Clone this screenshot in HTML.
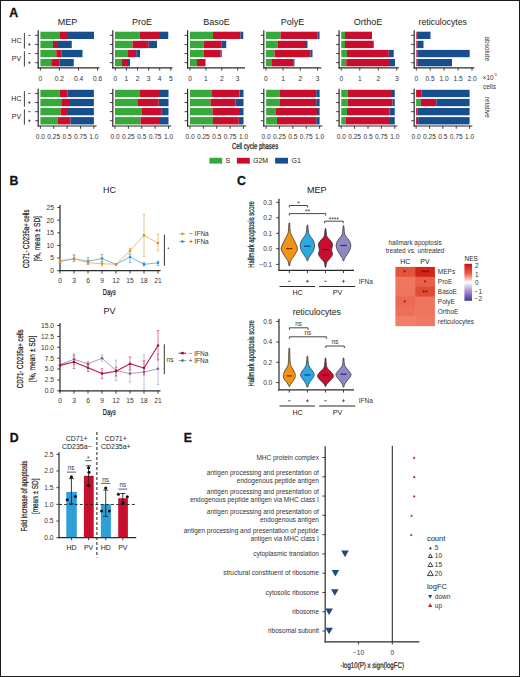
<!DOCTYPE html>
<html><head><meta charset="utf-8"><title>Figure</title>
<style>
html,body{margin:0;padding:0;background:#fff;}
svg{display:block;}
text{font-family:"Liberation Sans", sans-serif;}
</style></head>
<body>
<svg width="520" height="677" viewBox="0 0 520 677">
<rect x="0" y="0" width="520" height="677" fill="#fff"/>
<text x="9.20" y="17.00" font-size="12.3" text-anchor="start" fill="#111" font-weight="bold" stroke="#111" stroke-width="0.3">A</text>
<text x="67.50" y="24.60" font-size="9" text-anchor="middle" fill="#1a1a1a">MEP</text>
<rect x="40.40" y="31.70" width="19.60" height="7.30" fill="#36A93A"/>
<rect x="60.00" y="31.70" width="8.00" height="7.30" fill="#CB0D2D"/>
<rect x="68.00" y="31.70" width="26.00" height="7.30" fill="#174F8D"/>
<rect x="40.40" y="40.80" width="12.60" height="7.30" fill="#36A93A"/>
<rect x="53.00" y="40.80" width="5.00" height="7.30" fill="#CB0D2D"/>
<rect x="58.00" y="40.80" width="13.75" height="7.30" fill="#174F8D"/>
<rect x="40.40" y="49.90" width="15.85" height="7.30" fill="#36A93A"/>
<rect x="56.25" y="49.90" width="5.50" height="7.30" fill="#CB0D2D"/>
<rect x="61.75" y="49.90" width="20.75" height="7.30" fill="#174F8D"/>
<rect x="40.40" y="59.00" width="10.85" height="7.30" fill="#36A93A"/>
<rect x="51.25" y="59.00" width="8.00" height="7.30" fill="#CB0D2D"/>
<rect x="59.25" y="59.00" width="14.50" height="7.30" fill="#174F8D"/>
<rect x="40.40" y="89.80" width="19.10" height="7.30" fill="#36A93A"/>
<rect x="59.50" y="89.80" width="8.00" height="7.30" fill="#CB0D2D"/>
<rect x="67.50" y="89.80" width="26.40" height="7.30" fill="#174F8D"/>
<rect x="40.40" y="98.90" width="20.85" height="7.30" fill="#36A93A"/>
<rect x="61.25" y="98.90" width="8.75" height="7.30" fill="#CB0D2D"/>
<rect x="70.00" y="98.90" width="23.90" height="7.30" fill="#174F8D"/>
<rect x="40.40" y="108.00" width="20.10" height="7.30" fill="#36A93A"/>
<rect x="60.50" y="108.00" width="7.50" height="7.30" fill="#CB0D2D"/>
<rect x="68.00" y="108.00" width="25.90" height="7.30" fill="#174F8D"/>
<rect x="40.40" y="117.10" width="17.10" height="7.30" fill="#36A93A"/>
<rect x="57.50" y="117.10" width="13.00" height="7.30" fill="#CB0D2D"/>
<rect x="70.50" y="117.10" width="23.40" height="7.30" fill="#174F8D"/>
<line x1="38.20" y1="30.20" x2="38.20" y2="68.40" stroke="#2b2b2b" stroke-width="1.2"/>
<line x1="37.60" y1="67.80" x2="99.50" y2="67.80" stroke="#2b2b2b" stroke-width="1.2"/>
<line x1="35.20" y1="35.35" x2="38.20" y2="35.35" stroke="#2b2b2b" stroke-width="0.9"/>
<line x1="35.20" y1="44.45" x2="38.20" y2="44.45" stroke="#2b2b2b" stroke-width="0.9"/>
<line x1="35.20" y1="53.55" x2="38.20" y2="53.55" stroke="#2b2b2b" stroke-width="0.9"/>
<line x1="35.20" y1="62.65" x2="38.20" y2="62.65" stroke="#2b2b2b" stroke-width="0.9"/>
<line x1="40.40" y1="67.80" x2="40.40" y2="70.60" stroke="#2b2b2b" stroke-width="0.9"/>
<text x="40.40" y="80.60" font-size="6.6" text-anchor="middle" fill="#333">0</text>
<line x1="59.40" y1="67.80" x2="59.40" y2="70.60" stroke="#2b2b2b" stroke-width="0.9"/>
<text x="59.40" y="80.60" font-size="6.6" text-anchor="middle" fill="#333">0.2</text>
<line x1="78.50" y1="67.80" x2="78.50" y2="70.60" stroke="#2b2b2b" stroke-width="0.9"/>
<text x="78.50" y="80.60" font-size="6.6" text-anchor="middle" fill="#333">0.4</text>
<line x1="97.50" y1="67.80" x2="97.50" y2="70.60" stroke="#2b2b2b" stroke-width="0.9"/>
<text x="97.50" y="80.60" font-size="6.6" text-anchor="middle" fill="#333">0.6</text>
<line x1="38.20" y1="88.80" x2="38.20" y2="126.60" stroke="#2b2b2b" stroke-width="1.2"/>
<line x1="37.60" y1="126.00" x2="96.60" y2="126.00" stroke="#2b2b2b" stroke-width="1.2"/>
<line x1="35.20" y1="93.45" x2="38.20" y2="93.45" stroke="#2b2b2b" stroke-width="0.9"/>
<line x1="35.20" y1="102.55" x2="38.20" y2="102.55" stroke="#2b2b2b" stroke-width="0.9"/>
<line x1="35.20" y1="111.65" x2="38.20" y2="111.65" stroke="#2b2b2b" stroke-width="0.9"/>
<line x1="35.20" y1="120.75" x2="38.20" y2="120.75" stroke="#2b2b2b" stroke-width="0.9"/>
<line x1="40.40" y1="126.00" x2="40.40" y2="128.80" stroke="#2b2b2b" stroke-width="0.9"/>
<text x="40.40" y="138.80" font-size="6.6" text-anchor="middle" fill="#333">0.0</text>
<line x1="53.77" y1="126.00" x2="53.77" y2="128.80" stroke="#2b2b2b" stroke-width="0.9"/>
<text x="53.77" y="138.80" font-size="6.6" text-anchor="middle" fill="#333">0.25</text>
<line x1="67.15" y1="126.00" x2="67.15" y2="128.80" stroke="#2b2b2b" stroke-width="0.9"/>
<text x="67.15" y="138.80" font-size="6.6" text-anchor="middle" fill="#333">0.5</text>
<line x1="80.53" y1="126.00" x2="80.53" y2="128.80" stroke="#2b2b2b" stroke-width="0.9"/>
<text x="80.53" y="138.80" font-size="6.6" text-anchor="middle" fill="#333">0.75</text>
<line x1="93.90" y1="126.00" x2="93.90" y2="128.80" stroke="#2b2b2b" stroke-width="0.9"/>
<text x="93.90" y="138.80" font-size="6.6" text-anchor="middle" fill="#333">1.0</text>
<text x="142.00" y="24.60" font-size="9" text-anchor="middle" fill="#1a1a1a">ProE</text>
<rect x="115.00" y="31.70" width="24.50" height="7.30" fill="#36A93A"/>
<rect x="139.50" y="31.70" width="20.50" height="7.30" fill="#CB0D2D"/>
<rect x="160.00" y="31.70" width="8.25" height="7.30" fill="#174F8D"/>
<rect x="115.00" y="40.80" width="17.50" height="7.30" fill="#36A93A"/>
<rect x="132.50" y="40.80" width="16.25" height="7.30" fill="#CB0D2D"/>
<rect x="148.75" y="40.80" width="8.25" height="7.30" fill="#174F8D"/>
<rect x="115.00" y="49.90" width="13.00" height="7.30" fill="#36A93A"/>
<rect x="128.00" y="49.90" width="8.25" height="7.30" fill="#CB0D2D"/>
<rect x="136.25" y="49.90" width="3.75" height="7.30" fill="#174F8D"/>
<rect x="115.00" y="59.00" width="7.00" height="7.30" fill="#36A93A"/>
<rect x="122.00" y="59.00" width="5.00" height="7.30" fill="#CB0D2D"/>
<rect x="127.00" y="59.00" width="3.00" height="7.30" fill="#174F8D"/>
<rect x="115.00" y="89.80" width="25.00" height="7.30" fill="#36A93A"/>
<rect x="140.00" y="89.80" width="20.00" height="7.30" fill="#CB0D2D"/>
<rect x="160.00" y="89.80" width="8.50" height="7.30" fill="#174F8D"/>
<rect x="115.00" y="98.90" width="23.00" height="7.30" fill="#36A93A"/>
<rect x="138.00" y="98.90" width="20.75" height="7.30" fill="#CB0D2D"/>
<rect x="158.75" y="98.90" width="9.75" height="7.30" fill="#174F8D"/>
<rect x="115.00" y="108.00" width="27.00" height="7.30" fill="#36A93A"/>
<rect x="142.00" y="108.00" width="19.25" height="7.30" fill="#CB0D2D"/>
<rect x="161.25" y="108.00" width="7.25" height="7.30" fill="#174F8D"/>
<rect x="115.00" y="117.10" width="25.50" height="7.30" fill="#36A93A"/>
<rect x="140.50" y="117.10" width="19.50" height="7.30" fill="#CB0D2D"/>
<rect x="160.00" y="117.10" width="8.50" height="7.30" fill="#174F8D"/>
<line x1="112.80" y1="30.20" x2="112.80" y2="68.40" stroke="#2b2b2b" stroke-width="1.2"/>
<line x1="112.20" y1="67.80" x2="172.50" y2="67.80" stroke="#2b2b2b" stroke-width="1.2"/>
<line x1="109.80" y1="35.35" x2="112.80" y2="35.35" stroke="#2b2b2b" stroke-width="0.9"/>
<line x1="109.80" y1="44.45" x2="112.80" y2="44.45" stroke="#2b2b2b" stroke-width="0.9"/>
<line x1="109.80" y1="53.55" x2="112.80" y2="53.55" stroke="#2b2b2b" stroke-width="0.9"/>
<line x1="109.80" y1="62.65" x2="112.80" y2="62.65" stroke="#2b2b2b" stroke-width="0.9"/>
<line x1="115.30" y1="67.80" x2="115.30" y2="70.60" stroke="#2b2b2b" stroke-width="0.9"/>
<text x="115.30" y="80.60" font-size="6.6" text-anchor="middle" fill="#333">0</text>
<line x1="126.40" y1="67.80" x2="126.40" y2="70.60" stroke="#2b2b2b" stroke-width="0.9"/>
<text x="126.40" y="80.60" font-size="6.6" text-anchor="middle" fill="#333">1</text>
<line x1="137.50" y1="67.80" x2="137.50" y2="70.60" stroke="#2b2b2b" stroke-width="0.9"/>
<text x="137.50" y="80.60" font-size="6.6" text-anchor="middle" fill="#333">2</text>
<line x1="148.60" y1="67.80" x2="148.60" y2="70.60" stroke="#2b2b2b" stroke-width="0.9"/>
<text x="148.60" y="80.60" font-size="6.6" text-anchor="middle" fill="#333">3</text>
<line x1="159.70" y1="67.80" x2="159.70" y2="70.60" stroke="#2b2b2b" stroke-width="0.9"/>
<text x="159.70" y="80.60" font-size="6.6" text-anchor="middle" fill="#333">4</text>
<line x1="170.80" y1="67.80" x2="170.80" y2="70.60" stroke="#2b2b2b" stroke-width="0.9"/>
<text x="170.80" y="80.60" font-size="6.6" text-anchor="middle" fill="#333">5</text>
<line x1="112.80" y1="88.80" x2="112.80" y2="126.60" stroke="#2b2b2b" stroke-width="1.2"/>
<line x1="112.20" y1="126.00" x2="171.20" y2="126.00" stroke="#2b2b2b" stroke-width="1.2"/>
<line x1="109.80" y1="93.45" x2="112.80" y2="93.45" stroke="#2b2b2b" stroke-width="0.9"/>
<line x1="109.80" y1="102.55" x2="112.80" y2="102.55" stroke="#2b2b2b" stroke-width="0.9"/>
<line x1="109.80" y1="111.65" x2="112.80" y2="111.65" stroke="#2b2b2b" stroke-width="0.9"/>
<line x1="109.80" y1="120.75" x2="112.80" y2="120.75" stroke="#2b2b2b" stroke-width="0.9"/>
<line x1="115.00" y1="126.00" x2="115.00" y2="128.80" stroke="#2b2b2b" stroke-width="0.9"/>
<text x="115.00" y="138.80" font-size="6.6" text-anchor="middle" fill="#333">0.0</text>
<line x1="128.38" y1="126.00" x2="128.38" y2="128.80" stroke="#2b2b2b" stroke-width="0.9"/>
<text x="128.38" y="138.80" font-size="6.6" text-anchor="middle" fill="#333">0.25</text>
<line x1="141.75" y1="126.00" x2="141.75" y2="128.80" stroke="#2b2b2b" stroke-width="0.9"/>
<text x="141.75" y="138.80" font-size="6.6" text-anchor="middle" fill="#333">0.5</text>
<line x1="155.12" y1="126.00" x2="155.12" y2="128.80" stroke="#2b2b2b" stroke-width="0.9"/>
<text x="155.12" y="138.80" font-size="6.6" text-anchor="middle" fill="#333">0.75</text>
<line x1="168.50" y1="126.00" x2="168.50" y2="128.80" stroke="#2b2b2b" stroke-width="0.9"/>
<text x="168.50" y="138.80" font-size="6.6" text-anchor="middle" fill="#333">1.0</text>
<text x="216.50" y="24.60" font-size="9" text-anchor="middle" fill="#1a1a1a">BasoE</text>
<rect x="190.00" y="31.70" width="23.00" height="7.30" fill="#36A93A"/>
<rect x="213.00" y="31.70" width="27.50" height="7.30" fill="#CB0D2D"/>
<rect x="240.50" y="31.70" width="2.75" height="7.30" fill="#174F8D"/>
<rect x="190.00" y="40.80" width="13.75" height="7.30" fill="#36A93A"/>
<rect x="203.75" y="40.80" width="17.50" height="7.30" fill="#CB0D2D"/>
<rect x="221.25" y="40.80" width="5.00" height="7.30" fill="#174F8D"/>
<rect x="190.00" y="49.90" width="13.75" height="7.30" fill="#36A93A"/>
<rect x="203.75" y="49.90" width="17.00" height="7.30" fill="#CB0D2D"/>
<rect x="220.75" y="49.90" width="1.00" height="7.30" fill="#174F8D"/>
<rect x="190.00" y="59.00" width="7.00" height="7.30" fill="#36A93A"/>
<rect x="197.00" y="59.00" width="8.50" height="7.30" fill="#CB0D2D"/>
<rect x="205.50" y="59.00" width="0.00" height="7.30" fill="#174F8D"/>
<rect x="190.00" y="89.80" width="22.00" height="7.30" fill="#36A93A"/>
<rect x="212.00" y="89.80" width="27.50" height="7.30" fill="#CB0D2D"/>
<rect x="239.50" y="89.80" width="4.00" height="7.30" fill="#174F8D"/>
<rect x="190.00" y="98.90" width="20.50" height="7.30" fill="#36A93A"/>
<rect x="210.50" y="98.90" width="25.00" height="7.30" fill="#CB0D2D"/>
<rect x="235.50" y="98.90" width="8.00" height="7.30" fill="#174F8D"/>
<rect x="190.00" y="108.00" width="22.50" height="7.30" fill="#36A93A"/>
<rect x="212.50" y="108.00" width="27.50" height="7.30" fill="#CB0D2D"/>
<rect x="240.00" y="108.00" width="3.50" height="7.30" fill="#174F8D"/>
<rect x="190.00" y="117.10" width="23.00" height="7.30" fill="#36A93A"/>
<rect x="213.00" y="117.10" width="25.75" height="7.30" fill="#CB0D2D"/>
<rect x="238.75" y="117.10" width="4.75" height="7.30" fill="#174F8D"/>
<line x1="187.60" y1="30.20" x2="187.60" y2="68.40" stroke="#2b2b2b" stroke-width="1.2"/>
<line x1="187.00" y1="67.80" x2="245.00" y2="67.80" stroke="#2b2b2b" stroke-width="1.2"/>
<line x1="184.60" y1="35.35" x2="187.60" y2="35.35" stroke="#2b2b2b" stroke-width="0.9"/>
<line x1="184.60" y1="44.45" x2="187.60" y2="44.45" stroke="#2b2b2b" stroke-width="0.9"/>
<line x1="184.60" y1="53.55" x2="187.60" y2="53.55" stroke="#2b2b2b" stroke-width="0.9"/>
<line x1="184.60" y1="62.65" x2="187.60" y2="62.65" stroke="#2b2b2b" stroke-width="0.9"/>
<line x1="190.00" y1="67.80" x2="190.00" y2="70.60" stroke="#2b2b2b" stroke-width="0.9"/>
<text x="190.00" y="80.60" font-size="6.6" text-anchor="middle" fill="#333">0</text>
<line x1="205.90" y1="67.80" x2="205.90" y2="70.60" stroke="#2b2b2b" stroke-width="0.9"/>
<text x="205.90" y="80.60" font-size="6.6" text-anchor="middle" fill="#333">1</text>
<line x1="221.80" y1="67.80" x2="221.80" y2="70.60" stroke="#2b2b2b" stroke-width="0.9"/>
<text x="221.80" y="80.60" font-size="6.6" text-anchor="middle" fill="#333">2</text>
<line x1="237.70" y1="67.80" x2="237.70" y2="70.60" stroke="#2b2b2b" stroke-width="0.9"/>
<text x="237.70" y="80.60" font-size="6.6" text-anchor="middle" fill="#333">3</text>
<line x1="187.60" y1="88.80" x2="187.60" y2="126.60" stroke="#2b2b2b" stroke-width="1.2"/>
<line x1="187.00" y1="126.00" x2="246.20" y2="126.00" stroke="#2b2b2b" stroke-width="1.2"/>
<line x1="184.60" y1="93.45" x2="187.60" y2="93.45" stroke="#2b2b2b" stroke-width="0.9"/>
<line x1="184.60" y1="102.55" x2="187.60" y2="102.55" stroke="#2b2b2b" stroke-width="0.9"/>
<line x1="184.60" y1="111.65" x2="187.60" y2="111.65" stroke="#2b2b2b" stroke-width="0.9"/>
<line x1="184.60" y1="120.75" x2="187.60" y2="120.75" stroke="#2b2b2b" stroke-width="0.9"/>
<line x1="190.00" y1="126.00" x2="190.00" y2="128.80" stroke="#2b2b2b" stroke-width="0.9"/>
<text x="190.00" y="138.80" font-size="6.6" text-anchor="middle" fill="#333">0.0</text>
<line x1="203.38" y1="126.00" x2="203.38" y2="128.80" stroke="#2b2b2b" stroke-width="0.9"/>
<text x="203.38" y="138.80" font-size="6.6" text-anchor="middle" fill="#333">0.25</text>
<line x1="216.75" y1="126.00" x2="216.75" y2="128.80" stroke="#2b2b2b" stroke-width="0.9"/>
<text x="216.75" y="138.80" font-size="6.6" text-anchor="middle" fill="#333">0.5</text>
<line x1="230.12" y1="126.00" x2="230.12" y2="128.80" stroke="#2b2b2b" stroke-width="0.9"/>
<text x="230.12" y="138.80" font-size="6.6" text-anchor="middle" fill="#333">0.75</text>
<line x1="243.50" y1="126.00" x2="243.50" y2="128.80" stroke="#2b2b2b" stroke-width="0.9"/>
<text x="243.50" y="138.80" font-size="6.6" text-anchor="middle" fill="#333">1.0</text>
<text x="292.50" y="24.60" font-size="9" text-anchor="middle" fill="#1a1a1a">PolyE</text>
<rect x="265.90" y="31.70" width="14.60" height="7.30" fill="#36A93A"/>
<rect x="280.50" y="31.70" width="37.00" height="7.30" fill="#CB0D2D"/>
<rect x="317.50" y="31.70" width="2.00" height="7.30" fill="#174F8D"/>
<rect x="265.90" y="40.80" width="11.60" height="7.30" fill="#36A93A"/>
<rect x="277.50" y="40.80" width="27.50" height="7.30" fill="#CB0D2D"/>
<rect x="305.00" y="40.80" width="2.50" height="7.30" fill="#174F8D"/>
<rect x="265.90" y="49.90" width="8.60" height="7.30" fill="#36A93A"/>
<rect x="274.50" y="49.90" width="36.00" height="7.30" fill="#CB0D2D"/>
<rect x="310.50" y="49.90" width="2.00" height="7.30" fill="#174F8D"/>
<rect x="265.90" y="59.00" width="6.10" height="7.30" fill="#36A93A"/>
<rect x="272.00" y="59.00" width="21.75" height="7.30" fill="#CB0D2D"/>
<rect x="293.75" y="59.00" width="0.75" height="7.30" fill="#174F8D"/>
<rect x="266.10" y="89.80" width="13.90" height="7.30" fill="#36A93A"/>
<rect x="280.00" y="89.80" width="36.25" height="7.30" fill="#CB0D2D"/>
<rect x="316.25" y="89.80" width="3.35" height="7.30" fill="#174F8D"/>
<rect x="266.10" y="98.90" width="13.90" height="7.30" fill="#36A93A"/>
<rect x="280.00" y="98.90" width="36.25" height="7.30" fill="#CB0D2D"/>
<rect x="316.25" y="98.90" width="3.35" height="7.30" fill="#174F8D"/>
<rect x="266.10" y="108.00" width="9.40" height="7.30" fill="#36A93A"/>
<rect x="275.50" y="108.00" width="41.50" height="7.30" fill="#CB0D2D"/>
<rect x="317.00" y="108.00" width="2.60" height="7.30" fill="#174F8D"/>
<rect x="266.10" y="117.10" width="10.90" height="7.30" fill="#36A93A"/>
<rect x="277.00" y="117.10" width="39.25" height="7.30" fill="#CB0D2D"/>
<rect x="316.25" y="117.10" width="3.35" height="7.30" fill="#174F8D"/>
<line x1="263.80" y1="30.20" x2="263.80" y2="68.40" stroke="#2b2b2b" stroke-width="1.2"/>
<line x1="263.20" y1="67.80" x2="321.25" y2="67.80" stroke="#2b2b2b" stroke-width="1.2"/>
<line x1="260.80" y1="35.35" x2="263.80" y2="35.35" stroke="#2b2b2b" stroke-width="0.9"/>
<line x1="260.80" y1="44.45" x2="263.80" y2="44.45" stroke="#2b2b2b" stroke-width="0.9"/>
<line x1="260.80" y1="53.55" x2="263.80" y2="53.55" stroke="#2b2b2b" stroke-width="0.9"/>
<line x1="260.80" y1="62.65" x2="263.80" y2="62.65" stroke="#2b2b2b" stroke-width="0.9"/>
<line x1="265.90" y1="67.80" x2="265.90" y2="70.60" stroke="#2b2b2b" stroke-width="0.9"/>
<text x="265.90" y="80.60" font-size="6.6" text-anchor="middle" fill="#333">0</text>
<line x1="283.10" y1="67.80" x2="283.10" y2="70.60" stroke="#2b2b2b" stroke-width="0.9"/>
<text x="283.10" y="80.60" font-size="6.6" text-anchor="middle" fill="#333">1</text>
<line x1="300.30" y1="67.80" x2="300.30" y2="70.60" stroke="#2b2b2b" stroke-width="0.9"/>
<text x="300.30" y="80.60" font-size="6.6" text-anchor="middle" fill="#333">2</text>
<line x1="317.50" y1="67.80" x2="317.50" y2="70.60" stroke="#2b2b2b" stroke-width="0.9"/>
<text x="317.50" y="80.60" font-size="6.6" text-anchor="middle" fill="#333">3</text>
<line x1="263.80" y1="88.80" x2="263.80" y2="126.60" stroke="#2b2b2b" stroke-width="1.2"/>
<line x1="263.20" y1="126.00" x2="322.30" y2="126.00" stroke="#2b2b2b" stroke-width="1.2"/>
<line x1="260.80" y1="93.45" x2="263.80" y2="93.45" stroke="#2b2b2b" stroke-width="0.9"/>
<line x1="260.80" y1="102.55" x2="263.80" y2="102.55" stroke="#2b2b2b" stroke-width="0.9"/>
<line x1="260.80" y1="111.65" x2="263.80" y2="111.65" stroke="#2b2b2b" stroke-width="0.9"/>
<line x1="260.80" y1="120.75" x2="263.80" y2="120.75" stroke="#2b2b2b" stroke-width="0.9"/>
<line x1="266.10" y1="126.00" x2="266.10" y2="128.80" stroke="#2b2b2b" stroke-width="0.9"/>
<text x="266.10" y="138.80" font-size="6.6" text-anchor="middle" fill="#333">0.0</text>
<line x1="279.48" y1="126.00" x2="279.48" y2="128.80" stroke="#2b2b2b" stroke-width="0.9"/>
<text x="279.48" y="138.80" font-size="6.6" text-anchor="middle" fill="#333">0.25</text>
<line x1="292.85" y1="126.00" x2="292.85" y2="128.80" stroke="#2b2b2b" stroke-width="0.9"/>
<text x="292.85" y="138.80" font-size="6.6" text-anchor="middle" fill="#333">0.5</text>
<line x1="306.23" y1="126.00" x2="306.23" y2="128.80" stroke="#2b2b2b" stroke-width="0.9"/>
<text x="306.23" y="138.80" font-size="6.6" text-anchor="middle" fill="#333">0.75</text>
<line x1="319.60" y1="126.00" x2="319.60" y2="128.80" stroke="#2b2b2b" stroke-width="0.9"/>
<text x="319.60" y="138.80" font-size="6.6" text-anchor="middle" fill="#333">1.0</text>
<text x="368.00" y="24.60" font-size="9" text-anchor="middle" fill="#1a1a1a">OrthoE</text>
<rect x="341.25" y="31.70" width="3.75" height="7.30" fill="#36A93A"/>
<rect x="345.00" y="31.70" width="27.00" height="7.30" fill="#CB0D2D"/>
<rect x="372.00" y="31.70" width="0.00" height="7.30" fill="#174F8D"/>
<rect x="341.25" y="40.80" width="3.75" height="7.30" fill="#36A93A"/>
<rect x="345.00" y="40.80" width="28.75" height="7.30" fill="#CB0D2D"/>
<rect x="373.75" y="40.80" width="0.00" height="7.30" fill="#174F8D"/>
<rect x="341.25" y="49.90" width="5.75" height="7.30" fill="#36A93A"/>
<rect x="347.00" y="49.90" width="41.75" height="7.30" fill="#CB0D2D"/>
<rect x="388.75" y="49.90" width="5.00" height="7.30" fill="#174F8D"/>
<rect x="341.25" y="59.00" width="5.00" height="7.30" fill="#36A93A"/>
<rect x="346.25" y="59.00" width="43.75" height="7.30" fill="#CB0D2D"/>
<rect x="390.00" y="59.00" width="5.00" height="7.30" fill="#174F8D"/>
<rect x="341.25" y="89.80" width="6.25" height="7.30" fill="#36A93A"/>
<rect x="347.50" y="89.80" width="44.50" height="7.30" fill="#CB0D2D"/>
<rect x="392.00" y="89.80" width="2.75" height="7.30" fill="#174F8D"/>
<rect x="341.25" y="98.90" width="6.25" height="7.30" fill="#36A93A"/>
<rect x="347.50" y="98.90" width="45.00" height="7.30" fill="#CB0D2D"/>
<rect x="392.50" y="98.90" width="2.25" height="7.30" fill="#174F8D"/>
<rect x="341.25" y="108.00" width="5.75" height="7.30" fill="#36A93A"/>
<rect x="347.00" y="108.00" width="42.50" height="7.30" fill="#CB0D2D"/>
<rect x="389.50" y="108.00" width="5.25" height="7.30" fill="#174F8D"/>
<rect x="341.25" y="117.10" width="4.25" height="7.30" fill="#36A93A"/>
<rect x="345.50" y="117.10" width="44.50" height="7.30" fill="#CB0D2D"/>
<rect x="390.00" y="117.10" width="4.75" height="7.30" fill="#174F8D"/>
<line x1="339.10" y1="30.20" x2="339.10" y2="68.40" stroke="#2b2b2b" stroke-width="1.2"/>
<line x1="338.50" y1="67.80" x2="398.75" y2="67.80" stroke="#2b2b2b" stroke-width="1.2"/>
<line x1="336.10" y1="35.35" x2="339.10" y2="35.35" stroke="#2b2b2b" stroke-width="0.9"/>
<line x1="336.10" y1="44.45" x2="339.10" y2="44.45" stroke="#2b2b2b" stroke-width="0.9"/>
<line x1="336.10" y1="53.55" x2="339.10" y2="53.55" stroke="#2b2b2b" stroke-width="0.9"/>
<line x1="336.10" y1="62.65" x2="339.10" y2="62.65" stroke="#2b2b2b" stroke-width="0.9"/>
<line x1="341.25" y1="67.80" x2="341.25" y2="70.60" stroke="#2b2b2b" stroke-width="0.9"/>
<text x="341.25" y="80.60" font-size="6.6" text-anchor="middle" fill="#333">0</text>
<line x1="359.75" y1="67.80" x2="359.75" y2="70.60" stroke="#2b2b2b" stroke-width="0.9"/>
<text x="359.75" y="80.60" font-size="6.6" text-anchor="middle" fill="#333">1</text>
<line x1="378.25" y1="67.80" x2="378.25" y2="70.60" stroke="#2b2b2b" stroke-width="0.9"/>
<text x="378.25" y="80.60" font-size="6.6" text-anchor="middle" fill="#333">2</text>
<line x1="396.75" y1="67.80" x2="396.75" y2="70.60" stroke="#2b2b2b" stroke-width="0.9"/>
<text x="396.75" y="80.60" font-size="6.6" text-anchor="middle" fill="#333">3</text>
<line x1="339.10" y1="88.80" x2="339.10" y2="126.60" stroke="#2b2b2b" stroke-width="1.2"/>
<line x1="338.50" y1="126.00" x2="397.45" y2="126.00" stroke="#2b2b2b" stroke-width="1.2"/>
<line x1="336.10" y1="93.45" x2="339.10" y2="93.45" stroke="#2b2b2b" stroke-width="0.9"/>
<line x1="336.10" y1="102.55" x2="339.10" y2="102.55" stroke="#2b2b2b" stroke-width="0.9"/>
<line x1="336.10" y1="111.65" x2="339.10" y2="111.65" stroke="#2b2b2b" stroke-width="0.9"/>
<line x1="336.10" y1="120.75" x2="339.10" y2="120.75" stroke="#2b2b2b" stroke-width="0.9"/>
<line x1="341.25" y1="126.00" x2="341.25" y2="128.80" stroke="#2b2b2b" stroke-width="0.9"/>
<text x="341.25" y="138.80" font-size="6.6" text-anchor="middle" fill="#333">0.0</text>
<line x1="354.62" y1="126.00" x2="354.62" y2="128.80" stroke="#2b2b2b" stroke-width="0.9"/>
<text x="354.62" y="138.80" font-size="6.6" text-anchor="middle" fill="#333">0.25</text>
<line x1="368.00" y1="126.00" x2="368.00" y2="128.80" stroke="#2b2b2b" stroke-width="0.9"/>
<text x="368.00" y="138.80" font-size="6.6" text-anchor="middle" fill="#333">0.5</text>
<line x1="381.38" y1="126.00" x2="381.38" y2="128.80" stroke="#2b2b2b" stroke-width="0.9"/>
<text x="381.38" y="138.80" font-size="6.6" text-anchor="middle" fill="#333">0.75</text>
<line x1="394.75" y1="126.00" x2="394.75" y2="128.80" stroke="#2b2b2b" stroke-width="0.9"/>
<text x="394.75" y="138.80" font-size="6.6" text-anchor="middle" fill="#333">1.0</text>
<text x="442.70" y="24.60" font-size="8.7" text-anchor="middle" fill="#1a1a1a">reticulocytes</text>
<rect x="416.30" y="31.70" width="0.00" height="7.30" fill="#36A93A"/>
<rect x="416.30" y="31.70" width="0.80" height="7.30" fill="#CB0D2D"/>
<rect x="417.10" y="31.70" width="13.40" height="7.30" fill="#174F8D"/>
<rect x="416.30" y="40.80" width="0.00" height="7.30" fill="#36A93A"/>
<rect x="416.30" y="40.80" width="1.50" height="7.30" fill="#CB0D2D"/>
<rect x="417.80" y="40.80" width="5.70" height="7.30" fill="#174F8D"/>
<rect x="416.30" y="49.90" width="0.00" height="7.30" fill="#36A93A"/>
<rect x="416.30" y="49.90" width="1.00" height="7.30" fill="#CB0D2D"/>
<rect x="417.30" y="49.90" width="52.40" height="7.30" fill="#174F8D"/>
<rect x="416.30" y="59.00" width="0.00" height="7.30" fill="#36A93A"/>
<rect x="416.30" y="59.00" width="1.00" height="7.30" fill="#CB0D2D"/>
<rect x="417.30" y="59.00" width="34.70" height="7.30" fill="#174F8D"/>
<rect x="416.10" y="89.80" width="0.00" height="7.30" fill="#36A93A"/>
<rect x="416.10" y="89.80" width="5.50" height="7.30" fill="#CB0D2D"/>
<rect x="421.60" y="89.80" width="48.00" height="7.30" fill="#174F8D"/>
<rect x="416.10" y="98.90" width="4.70" height="7.30" fill="#36A93A"/>
<rect x="420.80" y="98.90" width="15.50" height="7.30" fill="#CB0D2D"/>
<rect x="436.30" y="98.90" width="33.30" height="7.30" fill="#174F8D"/>
<rect x="416.10" y="108.00" width="0.00" height="7.30" fill="#36A93A"/>
<rect x="416.10" y="108.00" width="1.60" height="7.30" fill="#CB0D2D"/>
<rect x="417.70" y="108.00" width="51.90" height="7.30" fill="#174F8D"/>
<rect x="416.10" y="117.10" width="0.00" height="7.30" fill="#36A93A"/>
<rect x="416.10" y="117.10" width="2.10" height="7.30" fill="#CB0D2D"/>
<rect x="418.20" y="117.10" width="51.40" height="7.30" fill="#174F8D"/>
<line x1="414.20" y1="30.20" x2="414.20" y2="68.40" stroke="#2b2b2b" stroke-width="1.2"/>
<line x1="413.60" y1="67.80" x2="474.30" y2="67.80" stroke="#2b2b2b" stroke-width="1.2"/>
<line x1="411.20" y1="35.35" x2="414.20" y2="35.35" stroke="#2b2b2b" stroke-width="0.9"/>
<line x1="411.20" y1="44.45" x2="414.20" y2="44.45" stroke="#2b2b2b" stroke-width="0.9"/>
<line x1="411.20" y1="53.55" x2="414.20" y2="53.55" stroke="#2b2b2b" stroke-width="0.9"/>
<line x1="411.20" y1="62.65" x2="414.20" y2="62.65" stroke="#2b2b2b" stroke-width="0.9"/>
<line x1="416.30" y1="67.80" x2="416.30" y2="70.60" stroke="#2b2b2b" stroke-width="0.9"/>
<text x="416.30" y="80.60" font-size="6.6" text-anchor="middle" fill="#333">0</text>
<line x1="430.20" y1="67.80" x2="430.20" y2="70.60" stroke="#2b2b2b" stroke-width="0.9"/>
<text x="430.20" y="80.60" font-size="6.6" text-anchor="middle" fill="#333">0.5</text>
<line x1="444.10" y1="67.80" x2="444.10" y2="70.60" stroke="#2b2b2b" stroke-width="0.9"/>
<text x="444.10" y="80.60" font-size="6.6" text-anchor="middle" fill="#333">1.0</text>
<line x1="458.10" y1="67.80" x2="458.10" y2="70.60" stroke="#2b2b2b" stroke-width="0.9"/>
<text x="458.10" y="80.60" font-size="6.6" text-anchor="middle" fill="#333">1.5</text>
<line x1="472.00" y1="67.80" x2="472.00" y2="70.60" stroke="#2b2b2b" stroke-width="0.9"/>
<text x="472.00" y="80.60" font-size="6.6" text-anchor="middle" fill="#333">2.0</text>
<line x1="414.20" y1="88.80" x2="414.20" y2="126.60" stroke="#2b2b2b" stroke-width="1.2"/>
<line x1="413.60" y1="126.00" x2="472.30" y2="126.00" stroke="#2b2b2b" stroke-width="1.2"/>
<line x1="411.20" y1="93.45" x2="414.20" y2="93.45" stroke="#2b2b2b" stroke-width="0.9"/>
<line x1="411.20" y1="102.55" x2="414.20" y2="102.55" stroke="#2b2b2b" stroke-width="0.9"/>
<line x1="411.20" y1="111.65" x2="414.20" y2="111.65" stroke="#2b2b2b" stroke-width="0.9"/>
<line x1="411.20" y1="120.75" x2="414.20" y2="120.75" stroke="#2b2b2b" stroke-width="0.9"/>
<line x1="416.10" y1="126.00" x2="416.10" y2="128.80" stroke="#2b2b2b" stroke-width="0.9"/>
<text x="416.10" y="138.80" font-size="6.6" text-anchor="middle" fill="#333">0.0</text>
<line x1="429.48" y1="126.00" x2="429.48" y2="128.80" stroke="#2b2b2b" stroke-width="0.9"/>
<text x="429.48" y="138.80" font-size="6.6" text-anchor="middle" fill="#333">0.25</text>
<line x1="442.85" y1="126.00" x2="442.85" y2="128.80" stroke="#2b2b2b" stroke-width="0.9"/>
<text x="442.85" y="138.80" font-size="6.6" text-anchor="middle" fill="#333">0.5</text>
<line x1="456.23" y1="126.00" x2="456.23" y2="128.80" stroke="#2b2b2b" stroke-width="0.9"/>
<text x="456.23" y="138.80" font-size="6.6" text-anchor="middle" fill="#333">0.75</text>
<line x1="469.60" y1="126.00" x2="469.60" y2="128.80" stroke="#2b2b2b" stroke-width="0.9"/>
<text x="469.60" y="138.80" font-size="6.6" text-anchor="middle" fill="#333">1.0</text>
<text x="16.40" y="42.50" font-size="7.0" text-anchor="middle" fill="#222">HC</text>
<text x="16.40" y="60.70" font-size="7.0" text-anchor="middle" fill="#222">PV</text>
<line x1="24.40" y1="33.00" x2="24.40" y2="48.60" stroke="#2b2b2b" stroke-width="0.9"/>
<line x1="24.40" y1="51.30" x2="24.40" y2="66.50" stroke="#2b2b2b" stroke-width="0.9"/>
<line x1="28.10" y1="35.35" x2="30.70" y2="35.35" stroke="#444" stroke-width="0.8"/>
<line x1="28.10" y1="44.45" x2="30.70" y2="44.45" stroke="#444" stroke-width="0.8"/>
<line x1="29.40" y1="43.15" x2="29.40" y2="45.75" stroke="#444" stroke-width="0.8"/>
<line x1="28.10" y1="53.55" x2="30.70" y2="53.55" stroke="#444" stroke-width="0.8"/>
<line x1="28.10" y1="62.65" x2="30.70" y2="62.65" stroke="#444" stroke-width="0.8"/>
<line x1="29.40" y1="61.35" x2="29.40" y2="63.95" stroke="#444" stroke-width="0.8"/>
<text x="16.40" y="100.60" font-size="7.0" text-anchor="middle" fill="#222">HC</text>
<text x="16.40" y="118.80" font-size="7.0" text-anchor="middle" fill="#222">PV</text>
<line x1="24.40" y1="91.10" x2="24.40" y2="106.70" stroke="#2b2b2b" stroke-width="0.9"/>
<line x1="24.40" y1="109.40" x2="24.40" y2="124.60" stroke="#2b2b2b" stroke-width="0.9"/>
<line x1="28.10" y1="93.45" x2="30.70" y2="93.45" stroke="#444" stroke-width="0.8"/>
<line x1="28.10" y1="102.55" x2="30.70" y2="102.55" stroke="#444" stroke-width="0.8"/>
<line x1="29.40" y1="101.25" x2="29.40" y2="103.85" stroke="#444" stroke-width="0.8"/>
<line x1="28.10" y1="111.65" x2="30.70" y2="111.65" stroke="#444" stroke-width="0.8"/>
<line x1="28.10" y1="120.75" x2="30.70" y2="120.75" stroke="#444" stroke-width="0.8"/>
<line x1="29.40" y1="119.45" x2="29.40" y2="122.05" stroke="#444" stroke-width="0.8"/>
<text x="484.60" y="48.80" font-size="6.5" text-anchor="middle" fill="#333" transform="rotate(90 484.6 48.8)" dy="0">absolute</text>
<text x="484.60" y="107.40" font-size="6.5" text-anchor="middle" fill="#333" transform="rotate(90 484.6 107.4)">relative</text>
<text x="482.60" y="80.00" font-size="6.5" text-anchor="start" fill="#333">×10</text>
<text x="494.60" y="76.20" font-size="4" text-anchor="start" fill="#333">3</text>
<text x="483.00" y="89.00" font-size="6.5" text-anchor="start" fill="#333">cells</text>
<text transform="translate(255.00,149.00) scale(0.6840,1)" x="0" y="0" font-size="8.7" text-anchor="middle" fill="#1a1a1a" stroke="#1a1a1a" stroke-width="0.263" text-rendering="geometricPrecision">Cell cycle phases</text>
<rect x="209.40" y="157.80" width="12.80" height="5.80" fill="#36A93A"/>
<text x="225.60" y="163.10" font-size="7" text-anchor="start" fill="#222">S</text>
<rect x="236.90" y="157.80" width="12.90" height="5.80" fill="#CB0D2D"/>
<text x="253.00" y="163.10" font-size="7" text-anchor="start" fill="#222">G2M</text>
<rect x="275.10" y="157.80" width="12.90" height="5.80" fill="#174F8D"/>
<text x="291.60" y="163.10" font-size="7" text-anchor="start" fill="#222">G1</text>
<text x="9.60" y="184.80" font-size="12.3" text-anchor="start" fill="#111" font-weight="bold" stroke="#111" stroke-width="0.3">B</text>
<text x="109.50" y="193.00" font-size="9" text-anchor="middle" fill="#1a1a1a">HC</text>
<line x1="60.00" y1="205.00" x2="60.00" y2="271.30" stroke="#2b2b2b" stroke-width="1.2"/>
<line x1="59.40" y1="270.70" x2="160.50" y2="270.70" stroke="#2b2b2b" stroke-width="1.2"/>
<line x1="57.20" y1="270.70" x2="60.00" y2="270.70" stroke="#2b2b2b" stroke-width="0.9"/>
<text x="54.00" y="273.10" font-size="6.7" text-anchor="end" fill="#333">0</text>
<line x1="57.20" y1="258.06" x2="60.00" y2="258.06" stroke="#2b2b2b" stroke-width="0.9"/>
<text x="54.00" y="260.46" font-size="6.7" text-anchor="end" fill="#333">5</text>
<line x1="57.20" y1="245.43" x2="60.00" y2="245.43" stroke="#2b2b2b" stroke-width="0.9"/>
<text x="54.00" y="247.83" font-size="6.7" text-anchor="end" fill="#333">10</text>
<line x1="57.20" y1="232.79" x2="60.00" y2="232.79" stroke="#2b2b2b" stroke-width="0.9"/>
<text x="54.00" y="235.19" font-size="6.7" text-anchor="end" fill="#333">15</text>
<line x1="57.20" y1="220.16" x2="60.00" y2="220.16" stroke="#2b2b2b" stroke-width="0.9"/>
<text x="54.00" y="222.56" font-size="6.7" text-anchor="end" fill="#333">20</text>
<line x1="57.20" y1="207.52" x2="60.00" y2="207.52" stroke="#2b2b2b" stroke-width="0.9"/>
<text x="54.00" y="209.92" font-size="6.7" text-anchor="end" fill="#333">25</text>
<line x1="60.00" y1="270.70" x2="60.00" y2="273.50" stroke="#2b2b2b" stroke-width="0.9"/>
<text x="60.00" y="282.90" font-size="6.7" text-anchor="middle" fill="#333">0</text>
<line x1="74.00" y1="270.70" x2="74.00" y2="273.50" stroke="#2b2b2b" stroke-width="0.9"/>
<text x="74.00" y="282.90" font-size="6.7" text-anchor="middle" fill="#333">3</text>
<line x1="88.00" y1="270.70" x2="88.00" y2="273.50" stroke="#2b2b2b" stroke-width="0.9"/>
<text x="88.00" y="282.90" font-size="6.7" text-anchor="middle" fill="#333">6</text>
<line x1="102.00" y1="270.70" x2="102.00" y2="273.50" stroke="#2b2b2b" stroke-width="0.9"/>
<text x="102.00" y="282.90" font-size="6.7" text-anchor="middle" fill="#333">9</text>
<line x1="116.00" y1="270.70" x2="116.00" y2="273.50" stroke="#2b2b2b" stroke-width="0.9"/>
<text x="116.00" y="282.90" font-size="6.7" text-anchor="middle" fill="#333">12</text>
<line x1="130.00" y1="270.70" x2="130.00" y2="273.50" stroke="#2b2b2b" stroke-width="0.9"/>
<text x="130.00" y="282.90" font-size="6.7" text-anchor="middle" fill="#333">15</text>
<line x1="144.01" y1="270.70" x2="144.01" y2="273.50" stroke="#2b2b2b" stroke-width="0.9"/>
<text x="144.01" y="282.90" font-size="6.7" text-anchor="middle" fill="#333">18</text>
<line x1="158.01" y1="270.70" x2="158.01" y2="273.50" stroke="#2b2b2b" stroke-width="0.9"/>
<text x="158.01" y="282.90" font-size="6.7" text-anchor="middle" fill="#333">21</text>
<text transform="translate(109.30,295.30) scale(0.6584,1)" x="0" y="0" font-size="8.6" text-anchor="middle" fill="#1a1a1a" stroke="#1a1a1a" stroke-width="0.228" text-rendering="geometricPrecision">Days</text>
<text transform="translate(28.80,238.80) rotate(-90) scale(0.6933,1)" x="0" y="0" font-size="8.7" text-anchor="middle" fill="#1a1a1a" stroke="#1a1a1a" stroke-width="0.216" text-rendering="geometricPrecision">CD71- CD235a+ cells</text>
<text transform="translate(40.00,238.80) rotate(-90) scale(0.7476,1)" x="0" y="0" font-size="8.7" text-anchor="middle" fill="#1a1a1a" stroke="#1a1a1a" stroke-width="0.201" text-rendering="geometricPrecision">[%, mean ± SD]</text>
<path d="M60.00,261.40 L74.00,258.90 L88.00,261.20 L102.00,258.50 L116.00,264.40 L130.00,256.90 L144.01,264.30 L158.01,262.80" fill="none" stroke="#45A8D6" stroke-width="0.8" stroke-linejoin="round"/>
<line x1="60.00" y1="259.00" x2="60.00" y2="263.50" stroke="#4A98C0" stroke-width="0.65"/>
<line x1="58.70" y1="259.00" x2="61.30" y2="259.00" stroke="#4A98C0" stroke-width="0.65"/>
<line x1="58.70" y1="263.50" x2="61.30" y2="263.50" stroke="#4A98C0" stroke-width="0.65"/>
<circle cx="60.00" cy="261.40" r="1.25" fill="#2F8DBA"/>
<line x1="74.00" y1="255.00" x2="74.00" y2="261.50" stroke="#4A98C0" stroke-width="0.65"/>
<line x1="72.70" y1="255.00" x2="75.30" y2="255.00" stroke="#4A98C0" stroke-width="0.65"/>
<line x1="72.70" y1="261.50" x2="75.30" y2="261.50" stroke="#4A98C0" stroke-width="0.65"/>
<circle cx="74.00" cy="258.90" r="1.25" fill="#2F8DBA"/>
<line x1="88.00" y1="257.70" x2="88.00" y2="264.30" stroke="#4A98C0" stroke-width="0.65"/>
<line x1="86.70" y1="257.70" x2="89.30" y2="257.70" stroke="#4A98C0" stroke-width="0.65"/>
<line x1="86.70" y1="264.30" x2="89.30" y2="264.30" stroke="#4A98C0" stroke-width="0.65"/>
<circle cx="88.00" cy="261.20" r="1.25" fill="#2F8DBA"/>
<line x1="102.00" y1="254.60" x2="102.00" y2="261.90" stroke="#4A98C0" stroke-width="0.65"/>
<line x1="100.70" y1="254.60" x2="103.30" y2="254.60" stroke="#4A98C0" stroke-width="0.65"/>
<line x1="100.70" y1="261.90" x2="103.30" y2="261.90" stroke="#4A98C0" stroke-width="0.65"/>
<circle cx="102.00" cy="258.50" r="1.25" fill="#2F8DBA"/>
<circle cx="116.00" cy="264.40" r="1.25" fill="#2F8DBA"/>
<line x1="130.00" y1="254.40" x2="130.00" y2="262.60" stroke="#4A98C0" stroke-width="0.65"/>
<line x1="128.70" y1="254.40" x2="131.31" y2="254.40" stroke="#4A98C0" stroke-width="0.65"/>
<line x1="128.70" y1="262.60" x2="131.31" y2="262.60" stroke="#4A98C0" stroke-width="0.65"/>
<circle cx="130.00" cy="256.90" r="1.25" fill="#2F8DBA"/>
<line x1="144.01" y1="262.60" x2="144.01" y2="266.00" stroke="#4A98C0" stroke-width="0.65"/>
<line x1="142.71" y1="262.60" x2="145.31" y2="262.60" stroke="#4A98C0" stroke-width="0.65"/>
<line x1="142.71" y1="266.00" x2="145.31" y2="266.00" stroke="#4A98C0" stroke-width="0.65"/>
<circle cx="144.01" cy="264.30" r="1.25" fill="#2F8DBA"/>
<line x1="158.01" y1="261.20" x2="158.01" y2="265.50" stroke="#4A98C0" stroke-width="0.65"/>
<line x1="156.71" y1="261.20" x2="159.31" y2="261.20" stroke="#4A98C0" stroke-width="0.65"/>
<line x1="156.71" y1="265.50" x2="159.31" y2="265.50" stroke="#4A98C0" stroke-width="0.65"/>
<circle cx="158.01" cy="262.80" r="1.25" fill="#2F8DBA"/>
<path d="M60.00,260.80 L74.00,258.60 L88.00,262.60 L102.00,263.80 L116.00,264.20 L130.00,250.80 L144.01,235.30 L158.01,243.10" fill="none" stroke="#EFA848" stroke-width="0.8" stroke-linejoin="round"/>
<line x1="60.00" y1="258.60" x2="60.00" y2="263.00" stroke="#DCA25A" stroke-width="0.65"/>
<line x1="58.70" y1="258.60" x2="61.30" y2="258.60" stroke="#DCA25A" stroke-width="0.65"/>
<line x1="58.70" y1="263.00" x2="61.30" y2="263.00" stroke="#DCA25A" stroke-width="0.65"/>
<circle cx="60.00" cy="260.80" r="1.25" fill="#D98B2B"/>
<line x1="74.00" y1="254.60" x2="74.00" y2="261.50" stroke="#DCA25A" stroke-width="0.65"/>
<line x1="72.70" y1="254.60" x2="75.30" y2="254.60" stroke="#DCA25A" stroke-width="0.65"/>
<line x1="72.70" y1="261.50" x2="75.30" y2="261.50" stroke="#DCA25A" stroke-width="0.65"/>
<circle cx="74.00" cy="258.60" r="1.25" fill="#D98B2B"/>
<line x1="88.00" y1="260.00" x2="88.00" y2="264.50" stroke="#DCA25A" stroke-width="0.65"/>
<line x1="86.70" y1="260.00" x2="89.30" y2="260.00" stroke="#DCA25A" stroke-width="0.65"/>
<line x1="86.70" y1="264.50" x2="89.30" y2="264.50" stroke="#DCA25A" stroke-width="0.65"/>
<circle cx="88.00" cy="262.60" r="1.25" fill="#D98B2B"/>
<line x1="102.00" y1="261.20" x2="102.00" y2="266.20" stroke="#DCA25A" stroke-width="0.65"/>
<line x1="100.70" y1="261.20" x2="103.30" y2="261.20" stroke="#DCA25A" stroke-width="0.65"/>
<line x1="100.70" y1="266.20" x2="103.30" y2="266.20" stroke="#DCA25A" stroke-width="0.65"/>
<circle cx="102.00" cy="263.80" r="1.25" fill="#D98B2B"/>
<circle cx="116.00" cy="264.20" r="1.25" fill="#D98B2B"/>
<line x1="130.00" y1="248.50" x2="130.00" y2="253.20" stroke="#DCA25A" stroke-width="0.65"/>
<line x1="128.70" y1="248.50" x2="131.31" y2="248.50" stroke="#DCA25A" stroke-width="0.65"/>
<line x1="128.70" y1="253.20" x2="131.31" y2="253.20" stroke="#DCA25A" stroke-width="0.65"/>
<circle cx="130.00" cy="250.80" r="1.25" fill="#D98B2B"/>
<line x1="144.01" y1="214.10" x2="144.01" y2="256.30" stroke="#DCA25A" stroke-width="0.65"/>
<line x1="142.71" y1="214.10" x2="145.31" y2="214.10" stroke="#DCA25A" stroke-width="0.65"/>
<line x1="142.71" y1="256.30" x2="145.31" y2="256.30" stroke="#DCA25A" stroke-width="0.65"/>
<circle cx="144.01" cy="235.30" r="1.25" fill="#D98B2B"/>
<line x1="158.01" y1="234.30" x2="158.01" y2="250.90" stroke="#DCA25A" stroke-width="0.65"/>
<line x1="156.71" y1="234.30" x2="159.31" y2="234.30" stroke="#DCA25A" stroke-width="0.65"/>
<line x1="156.71" y1="250.90" x2="159.31" y2="250.90" stroke="#DCA25A" stroke-width="0.65"/>
<circle cx="158.01" cy="243.10" r="1.25" fill="#D98B2B"/>
<line x1="164.40" y1="234.60" x2="164.40" y2="265.70" stroke="#333" stroke-width="1"/>
<circle cx="168.3" cy="248.3" r="0.7" fill="#333"/>
<line x1="179.40" y1="233.90" x2="185.50" y2="233.90" stroke="#EFA848" stroke-width="0.9"/>
<line x1="182.40" y1="232.40" x2="182.40" y2="235.40" stroke="#DCA25A" stroke-width="0.6"/>
<circle cx="182.4" cy="233.9" r="1.2" fill="#D98B2B"/>
<line x1="179.40" y1="241.50" x2="185.50" y2="241.50" stroke="#45A8D6" stroke-width="0.9"/>
<line x1="182.40" y1="240.00" x2="182.40" y2="243.00" stroke="#4A98C0" stroke-width="0.6"/>
<circle cx="182.4" cy="241.5" r="1.2" fill="#2F8DBA"/>
<text x="189.00" y="236.30" font-size="6.5" text-anchor="start" fill="#333">− IFNa</text>
<text x="189.00" y="243.90" font-size="6.5" text-anchor="start" fill="#333">+ IFNa</text>
<text x="109.50" y="313.90" font-size="9" text-anchor="middle" fill="#1a1a1a">PV</text>
<line x1="60.00" y1="323.00" x2="60.00" y2="391.40" stroke="#2b2b2b" stroke-width="1.2"/>
<line x1="59.40" y1="390.80" x2="160.50" y2="390.80" stroke="#2b2b2b" stroke-width="1.2"/>
<line x1="57.20" y1="390.80" x2="60.00" y2="390.80" stroke="#2b2b2b" stroke-width="0.9"/>
<text x="54.00" y="393.20" font-size="6.7" text-anchor="end" fill="#333">0.0</text>
<line x1="57.20" y1="379.93" x2="60.00" y2="379.93" stroke="#2b2b2b" stroke-width="0.9"/>
<text x="54.00" y="382.32" font-size="6.7" text-anchor="end" fill="#333">2.5</text>
<line x1="57.20" y1="369.05" x2="60.00" y2="369.05" stroke="#2b2b2b" stroke-width="0.9"/>
<text x="54.00" y="371.45" font-size="6.7" text-anchor="end" fill="#333">5.0</text>
<line x1="57.20" y1="358.18" x2="60.00" y2="358.18" stroke="#2b2b2b" stroke-width="0.9"/>
<text x="54.00" y="360.57" font-size="6.7" text-anchor="end" fill="#333">7.5</text>
<line x1="57.20" y1="347.30" x2="60.00" y2="347.30" stroke="#2b2b2b" stroke-width="0.9"/>
<text x="54.00" y="349.70" font-size="6.7" text-anchor="end" fill="#333">10.0</text>
<line x1="57.20" y1="336.43" x2="60.00" y2="336.43" stroke="#2b2b2b" stroke-width="0.9"/>
<text x="54.00" y="338.82" font-size="6.7" text-anchor="end" fill="#333">12.5</text>
<line x1="57.20" y1="325.55" x2="60.00" y2="325.55" stroke="#2b2b2b" stroke-width="0.9"/>
<text x="54.00" y="327.95" font-size="6.7" text-anchor="end" fill="#333">15.0</text>
<line x1="60.00" y1="390.80" x2="60.00" y2="393.60" stroke="#2b2b2b" stroke-width="0.9"/>
<text x="60.00" y="403.00" font-size="6.7" text-anchor="middle" fill="#333">0</text>
<line x1="74.00" y1="390.80" x2="74.00" y2="393.60" stroke="#2b2b2b" stroke-width="0.9"/>
<text x="74.00" y="403.00" font-size="6.7" text-anchor="middle" fill="#333">3</text>
<line x1="88.00" y1="390.80" x2="88.00" y2="393.60" stroke="#2b2b2b" stroke-width="0.9"/>
<text x="88.00" y="403.00" font-size="6.7" text-anchor="middle" fill="#333">6</text>
<line x1="102.00" y1="390.80" x2="102.00" y2="393.60" stroke="#2b2b2b" stroke-width="0.9"/>
<text x="102.00" y="403.00" font-size="6.7" text-anchor="middle" fill="#333">9</text>
<line x1="116.00" y1="390.80" x2="116.00" y2="393.60" stroke="#2b2b2b" stroke-width="0.9"/>
<text x="116.00" y="403.00" font-size="6.7" text-anchor="middle" fill="#333">12</text>
<line x1="130.00" y1="390.80" x2="130.00" y2="393.60" stroke="#2b2b2b" stroke-width="0.9"/>
<text x="130.00" y="403.00" font-size="6.7" text-anchor="middle" fill="#333">15</text>
<line x1="144.01" y1="390.80" x2="144.01" y2="393.60" stroke="#2b2b2b" stroke-width="0.9"/>
<text x="144.01" y="403.00" font-size="6.7" text-anchor="middle" fill="#333">18</text>
<line x1="158.01" y1="390.80" x2="158.01" y2="393.60" stroke="#2b2b2b" stroke-width="0.9"/>
<text x="158.01" y="403.00" font-size="6.7" text-anchor="middle" fill="#333">21</text>
<text transform="translate(109.30,415.40) scale(0.6584,1)" x="0" y="0" font-size="8.6" text-anchor="middle" fill="#1a1a1a" stroke="#1a1a1a" stroke-width="0.228" text-rendering="geometricPrecision">Days</text>
<text transform="translate(23.40,358.80) rotate(-90) scale(0.6981,1)" x="0" y="0" font-size="8.7" text-anchor="middle" fill="#1a1a1a" stroke="#1a1a1a" stroke-width="0.215" text-rendering="geometricPrecision">CD71- CD235a+ cells</text>
<text transform="translate(34.60,358.80) rotate(-90) scale(0.7640,1)" x="0" y="0" font-size="8.7" text-anchor="middle" fill="#1a1a1a" stroke="#1a1a1a" stroke-width="0.196" text-rendering="geometricPrecision">[%, mean ± SD]</text>
<path d="M60.00,364.60 L74.00,359.30 L88.00,363.80 L102.00,358.20 L116.00,370.60 L130.00,373.60 L144.01,372.00 L158.01,368.80" fill="none" stroke="#8C84B8" stroke-width="0.8" stroke-linejoin="round"/>
<circle cx="60.00" cy="364.60" r="1.25" fill="#6C6494"/>
<line x1="74.00" y1="353.60" x2="74.00" y2="364.80" stroke="#A49CC4" stroke-width="0.65"/>
<line x1="72.70" y1="353.60" x2="75.30" y2="353.60" stroke="#A49CC4" stroke-width="0.65"/>
<line x1="72.70" y1="364.80" x2="75.30" y2="364.80" stroke="#A49CC4" stroke-width="0.65"/>
<circle cx="74.00" cy="359.30" r="1.25" fill="#6C6494"/>
<line x1="88.00" y1="361.40" x2="88.00" y2="366.00" stroke="#A49CC4" stroke-width="0.65"/>
<line x1="86.70" y1="361.40" x2="89.30" y2="361.40" stroke="#A49CC4" stroke-width="0.65"/>
<line x1="86.70" y1="366.00" x2="89.30" y2="366.00" stroke="#A49CC4" stroke-width="0.65"/>
<circle cx="88.00" cy="363.80" r="1.25" fill="#6C6494"/>
<line x1="102.00" y1="355.00" x2="102.00" y2="361.30" stroke="#A49CC4" stroke-width="0.65"/>
<line x1="100.70" y1="355.00" x2="103.30" y2="355.00" stroke="#A49CC4" stroke-width="0.65"/>
<line x1="100.70" y1="361.30" x2="103.30" y2="361.30" stroke="#A49CC4" stroke-width="0.65"/>
<circle cx="102.00" cy="358.20" r="1.25" fill="#6C6494"/>
<line x1="116.00" y1="360.20" x2="116.00" y2="380.40" stroke="#A49CC4" stroke-width="0.65"/>
<line x1="114.70" y1="360.20" x2="117.30" y2="360.20" stroke="#A49CC4" stroke-width="0.65"/>
<line x1="114.70" y1="380.40" x2="117.30" y2="380.40" stroke="#A49CC4" stroke-width="0.65"/>
<circle cx="116.00" cy="370.60" r="1.25" fill="#6C6494"/>
<line x1="130.00" y1="366.20" x2="130.00" y2="382.00" stroke="#A49CC4" stroke-width="0.65"/>
<line x1="128.70" y1="366.20" x2="131.31" y2="366.20" stroke="#A49CC4" stroke-width="0.65"/>
<line x1="128.70" y1="382.00" x2="131.31" y2="382.00" stroke="#A49CC4" stroke-width="0.65"/>
<circle cx="130.00" cy="373.60" r="1.25" fill="#6C6494"/>
<line x1="144.01" y1="355.00" x2="144.01" y2="388.70" stroke="#A49CC4" stroke-width="0.65"/>
<line x1="142.71" y1="355.00" x2="145.31" y2="355.00" stroke="#A49CC4" stroke-width="0.65"/>
<line x1="142.71" y1="388.70" x2="145.31" y2="388.70" stroke="#A49CC4" stroke-width="0.65"/>
<circle cx="144.01" cy="372.00" r="1.25" fill="#6C6494"/>
<line x1="158.01" y1="353.80" x2="158.01" y2="384.50" stroke="#A49CC4" stroke-width="0.65"/>
<line x1="156.71" y1="353.80" x2="159.31" y2="353.80" stroke="#A49CC4" stroke-width="0.65"/>
<line x1="156.71" y1="384.50" x2="159.31" y2="384.50" stroke="#A49CC4" stroke-width="0.65"/>
<circle cx="158.01" cy="368.80" r="1.25" fill="#6C6494"/>
<path d="M60.00,365.40 L74.00,362.00 L88.00,367.80 L102.00,373.60 L116.00,371.20 L130.00,363.80 L144.01,368.00 L158.01,345.50" fill="none" stroke="#BC1A40" stroke-width="1.1" stroke-linejoin="round"/>
<line x1="60.00" y1="360.80" x2="60.00" y2="369.20" stroke="#C23A5A" stroke-width="0.65"/>
<line x1="58.70" y1="360.80" x2="61.30" y2="360.80" stroke="#C23A5A" stroke-width="0.65"/>
<line x1="58.70" y1="369.20" x2="61.30" y2="369.20" stroke="#C23A5A" stroke-width="0.65"/>
<circle cx="60.00" cy="365.40" r="1.25" fill="#9A1035"/>
<line x1="74.00" y1="355.20" x2="74.00" y2="368.50" stroke="#C23A5A" stroke-width="0.65"/>
<line x1="72.70" y1="355.20" x2="75.30" y2="355.20" stroke="#C23A5A" stroke-width="0.65"/>
<line x1="72.70" y1="368.50" x2="75.30" y2="368.50" stroke="#C23A5A" stroke-width="0.65"/>
<circle cx="74.00" cy="362.00" r="1.25" fill="#9A1035"/>
<line x1="88.00" y1="364.80" x2="88.00" y2="371.40" stroke="#C23A5A" stroke-width="0.65"/>
<line x1="86.70" y1="364.80" x2="89.30" y2="364.80" stroke="#C23A5A" stroke-width="0.65"/>
<line x1="86.70" y1="371.40" x2="89.30" y2="371.40" stroke="#C23A5A" stroke-width="0.65"/>
<circle cx="88.00" cy="367.80" r="1.25" fill="#9A1035"/>
<line x1="102.00" y1="368.60" x2="102.00" y2="378.60" stroke="#C23A5A" stroke-width="0.65"/>
<line x1="100.70" y1="368.60" x2="103.30" y2="368.60" stroke="#C23A5A" stroke-width="0.65"/>
<line x1="100.70" y1="378.60" x2="103.30" y2="378.60" stroke="#C23A5A" stroke-width="0.65"/>
<circle cx="102.00" cy="373.60" r="1.25" fill="#9A1035"/>
<line x1="116.00" y1="367.00" x2="116.00" y2="376.00" stroke="#C23A5A" stroke-width="0.65"/>
<line x1="114.70" y1="367.00" x2="117.30" y2="367.00" stroke="#C23A5A" stroke-width="0.65"/>
<line x1="114.70" y1="376.00" x2="117.30" y2="376.00" stroke="#C23A5A" stroke-width="0.65"/>
<circle cx="116.00" cy="371.20" r="1.25" fill="#9A1035"/>
<line x1="130.00" y1="357.00" x2="130.00" y2="370.00" stroke="#C23A5A" stroke-width="0.65"/>
<line x1="128.70" y1="357.00" x2="131.31" y2="357.00" stroke="#C23A5A" stroke-width="0.65"/>
<line x1="128.70" y1="370.00" x2="131.31" y2="370.00" stroke="#C23A5A" stroke-width="0.65"/>
<circle cx="130.00" cy="363.80" r="1.25" fill="#9A1035"/>
<line x1="144.01" y1="360.80" x2="144.01" y2="375.00" stroke="#C23A5A" stroke-width="0.65"/>
<line x1="142.71" y1="360.80" x2="145.31" y2="360.80" stroke="#C23A5A" stroke-width="0.65"/>
<line x1="142.71" y1="375.00" x2="145.31" y2="375.00" stroke="#C23A5A" stroke-width="0.65"/>
<circle cx="144.01" cy="368.00" r="1.25" fill="#9A1035"/>
<line x1="158.01" y1="330.50" x2="158.01" y2="360.00" stroke="#C23A5A" stroke-width="0.65"/>
<line x1="156.71" y1="330.50" x2="159.31" y2="330.50" stroke="#C23A5A" stroke-width="0.65"/>
<line x1="156.71" y1="360.00" x2="159.31" y2="360.00" stroke="#C23A5A" stroke-width="0.65"/>
<circle cx="158.01" cy="345.50" r="1.25" fill="#9A1035"/>
<line x1="164.30" y1="344.30" x2="164.30" y2="374.20" stroke="#333" stroke-width="1"/>
<text x="166.60" y="362.00" font-size="6.5" text-anchor="start" fill="#333">ns</text>
<line x1="178.80" y1="353.20" x2="186.20" y2="353.20" stroke="#BC1A40" stroke-width="1.1"/>
<circle cx="182.5" cy="353.2" r="1.4" fill="#9A1035"/>
<line x1="178.80" y1="360.60" x2="186.20" y2="360.60" stroke="#8C84B8" stroke-width="0.9"/>
<circle cx="182.5" cy="360.6" r="1.3" fill="#6C6494"/>
<text x="188.70" y="355.60" font-size="6.5" text-anchor="start" fill="#333">− IFNa</text>
<text x="188.70" y="363.00" font-size="6.5" text-anchor="start" fill="#333">+ IFNa</text>
<text x="237.00" y="184.80" font-size="12.3" text-anchor="start" fill="#111" font-weight="bold" stroke="#111" stroke-width="0.3">C</text>
<text x="316.80" y="193.30" font-size="9" text-anchor="middle" fill="#1a1a1a">MEP</text>
<line x1="279.00" y1="198.80" x2="279.00" y2="270.90" stroke="#2b2b2b" stroke-width="1.2"/>
<line x1="278.40" y1="270.30" x2="354.00" y2="270.30" stroke="#2b2b2b" stroke-width="1.2"/>
<line x1="276.20" y1="202.30" x2="279.00" y2="202.30" stroke="#2b2b2b" stroke-width="0.9"/>
<text x="272.20" y="204.60" font-size="6.5" text-anchor="end" fill="#333">0.3</text>
<line x1="276.20" y1="217.80" x2="279.00" y2="217.80" stroke="#2b2b2b" stroke-width="0.9"/>
<text x="272.20" y="220.10" font-size="6.5" text-anchor="end" fill="#333">0.2</text>
<line x1="276.20" y1="233.30" x2="279.00" y2="233.30" stroke="#2b2b2b" stroke-width="0.9"/>
<text x="272.20" y="235.60" font-size="6.5" text-anchor="end" fill="#333">0.1</text>
<line x1="276.20" y1="248.70" x2="279.00" y2="248.70" stroke="#2b2b2b" stroke-width="0.9"/>
<text x="272.20" y="251.00" font-size="6.5" text-anchor="end" fill="#333">0.0</text>
<line x1="276.20" y1="264.40" x2="279.00" y2="264.40" stroke="#2b2b2b" stroke-width="0.9"/>
<text x="272.20" y="266.70" font-size="6.5" text-anchor="end" fill="#333">−0.1</text>
<text transform="translate(254.10,234.50) rotate(-90) scale(0.6809,1)" x="0" y="0" font-size="8.7" text-anchor="middle" fill="#1a1a1a" stroke="#1a1a1a" stroke-width="0.220" text-rendering="geometricPrecision">Hallmark apoptosis score</text>
<path d="M289.30,222.80 L288.90,223.00 C288.87,223.50 288.78,224.67 288.70,226.00 C288.62,227.33 288.55,229.72 288.40,231.00 C288.25,232.28 288.12,232.78 287.80,233.70 C287.48,234.62 287.02,235.45 286.50,236.50 C285.98,237.55 285.33,238.75 284.70,240.00 C284.07,241.25 283.30,242.57 282.70,244.00 C282.10,245.43 281.17,247.27 281.10,248.60 C281.03,249.93 281.70,250.77 282.30,252.00 C282.90,253.23 283.90,254.75 284.70,256.00 C285.50,257.25 286.50,258.50 287.10,259.50 C287.70,260.50 288.00,260.97 288.30,262.00 C288.60,263.03 288.80,265.08 288.90,265.70 L289.30,265.90 L289.70,265.70 C289.80,265.08 290.00,263.03 290.30,262.00 C290.60,260.97 290.90,260.50 291.50,259.50 C292.10,258.50 293.10,257.25 293.90,256.00 C294.70,254.75 295.70,253.23 296.30,252.00 C296.90,250.77 297.57,249.93 297.50,248.60 C297.43,247.27 296.50,245.43 295.90,244.00 C295.30,242.57 294.53,241.25 293.90,240.00 C293.27,238.75 292.62,237.55 292.10,236.50 C291.58,235.45 291.12,234.62 290.80,233.70 C290.48,232.78 290.35,232.28 290.20,231.00 C290.05,229.72 289.98,227.33 289.90,226.00 C289.82,224.67 289.73,223.50 289.70,223.00 Z" fill="#F39313" stroke="#333" stroke-width="0.75" stroke-linejoin="round"/>
<line x1="286.10" y1="248.60" x2="292.50" y2="248.60" stroke="#6a300a" stroke-width="1.2"/>
<line x1="289.30" y1="270.30" x2="289.30" y2="273.10" stroke="#2b2b2b" stroke-width="0.9"/>
<path d="M307.40,224.90 L307.00,225.10 C306.95,225.75 306.82,227.82 306.70,229.00 C306.58,230.18 306.52,231.20 306.30,232.20 C306.08,233.20 305.85,234.12 305.40,235.00 C304.95,235.88 304.23,236.58 303.60,237.50 C302.97,238.42 302.12,239.50 301.60,240.50 C301.08,241.50 300.73,242.58 300.50,243.50 C300.27,244.42 300.15,245.08 300.20,246.00 C300.25,246.92 300.43,247.92 300.80,249.00 C301.17,250.08 301.80,251.42 302.40,252.50 C303.00,253.58 303.82,254.62 304.40,255.50 C304.98,256.38 305.55,257.22 305.90,257.80 C306.25,258.38 306.32,258.52 306.50,259.00 C306.68,259.48 306.92,260.42 307.00,260.70 L307.40,260.90 L307.80,260.70 C307.88,260.42 308.12,259.48 308.30,259.00 C308.48,258.52 308.55,258.38 308.90,257.80 C309.25,257.22 309.82,256.38 310.40,255.50 C310.98,254.62 311.80,253.58 312.40,252.50 C313.00,251.42 313.63,250.08 314.00,249.00 C314.37,247.92 314.55,246.92 314.60,246.00 C314.65,245.08 314.53,244.42 314.30,243.50 C314.07,242.58 313.72,241.50 313.20,240.50 C312.68,239.50 311.83,238.42 311.20,237.50 C310.57,236.58 309.85,235.88 309.40,235.00 C308.95,234.12 308.72,233.20 308.50,232.20 C308.28,231.20 308.22,230.18 308.10,229.00 C307.98,227.82 307.85,225.75 307.80,225.10 Z" fill="#2BA9E1" stroke="#333" stroke-width="0.75" stroke-linejoin="round"/>
<line x1="304.20" y1="246.20" x2="310.60" y2="246.20" stroke="#173f6e" stroke-width="1.2"/>
<line x1="307.40" y1="270.30" x2="307.40" y2="273.10" stroke="#2b2b2b" stroke-width="0.9"/>
<path d="M325.50,228.50 L325.10,228.70 C325.05,229.25 324.93,230.82 324.80,232.00 C324.67,233.18 324.62,234.80 324.30,235.80 C323.98,236.80 323.53,237.22 322.90,238.00 C322.27,238.78 321.18,239.67 320.50,240.50 C319.82,241.33 319.15,242.25 318.80,243.00 C318.45,243.75 318.38,244.25 318.40,245.00 C318.42,245.75 318.73,246.67 318.90,247.50 C319.07,248.33 319.40,249.25 319.40,250.00 C319.40,250.75 319.05,251.33 318.90,252.00 C318.75,252.67 318.40,253.25 318.50,254.00 C318.60,254.75 319.00,255.67 319.50,256.50 C320.00,257.33 320.87,258.25 321.50,259.00 C322.13,259.75 322.83,260.42 323.30,261.00 C323.77,261.58 324.05,261.92 324.30,262.50 C324.55,263.08 324.67,263.73 324.80,264.50 C324.93,265.27 325.05,266.67 325.10,267.10 L325.50,267.30 L325.90,267.10 C325.95,266.67 326.07,265.27 326.20,264.50 C326.33,263.73 326.45,263.08 326.70,262.50 C326.95,261.92 327.23,261.58 327.70,261.00 C328.17,260.42 328.87,259.75 329.50,259.00 C330.13,258.25 331.00,257.33 331.50,256.50 C332.00,255.67 332.40,254.75 332.50,254.00 C332.60,253.25 332.25,252.67 332.10,252.00 C331.95,251.33 331.60,250.75 331.60,250.00 C331.60,249.25 331.93,248.33 332.10,247.50 C332.27,246.67 332.58,245.75 332.60,245.00 C332.62,244.25 332.55,243.75 332.20,243.00 C331.85,242.25 331.18,241.33 330.50,240.50 C329.82,239.67 328.73,238.78 328.10,238.00 C327.47,237.22 327.02,236.80 326.70,235.80 C326.38,234.80 326.33,233.18 326.20,232.00 C326.07,230.82 325.95,229.25 325.90,228.70 Z" fill="#C90C2F" stroke="#333" stroke-width="0.75" stroke-linejoin="round"/>
<line x1="322.31" y1="249.60" x2="328.69" y2="249.60" stroke="#4a0815" stroke-width="1.2"/>
<line x1="325.50" y1="270.30" x2="325.50" y2="273.10" stroke="#2b2b2b" stroke-width="0.9"/>
<path d="M343.50,225.60 L343.10,225.80 C343.07,226.33 343.02,227.68 342.90,229.00 C342.78,230.32 342.67,232.53 342.40,233.70 C342.13,234.87 341.82,235.20 341.30,236.00 C340.78,236.80 339.98,237.58 339.30,238.50 C338.62,239.42 337.72,240.42 337.20,241.50 C336.68,242.58 336.28,243.83 336.20,245.00 C336.12,246.17 336.35,247.33 336.70,248.50 C337.05,249.67 337.70,250.92 338.30,252.00 C338.90,253.08 339.68,254.03 340.30,255.00 C340.92,255.97 341.62,257.13 342.00,257.80 C342.38,258.47 342.42,258.52 342.60,259.00 C342.78,259.48 343.02,260.42 343.10,260.70 L343.50,260.90 L343.90,260.70 C343.98,260.42 344.22,259.48 344.40,259.00 C344.58,258.52 344.62,258.47 345.00,257.80 C345.38,257.13 346.08,255.97 346.70,255.00 C347.32,254.03 348.10,253.08 348.70,252.00 C349.30,250.92 349.95,249.67 350.30,248.50 C350.65,247.33 350.88,246.17 350.80,245.00 C350.72,243.83 350.32,242.58 349.80,241.50 C349.28,240.42 348.38,239.42 347.70,238.50 C347.02,237.58 346.22,236.80 345.70,236.00 C345.18,235.20 344.87,234.87 344.60,233.70 C344.33,232.53 344.22,230.32 344.10,229.00 C343.98,227.68 343.93,226.33 343.90,225.80 Z" fill="#8E88C4" stroke="#333" stroke-width="0.75" stroke-linejoin="round"/>
<line x1="340.30" y1="245.50" x2="346.70" y2="245.50" stroke="#2f2a70" stroke-width="1.2"/>
<line x1="343.50" y1="270.30" x2="343.50" y2="273.10" stroke="#2b2b2b" stroke-width="0.9"/>
<line x1="287.90" y1="281.30" x2="290.70" y2="281.30" stroke="#444" stroke-width="0.8"/>
<line x1="306.00" y1="281.30" x2="308.80" y2="281.30" stroke="#444" stroke-width="0.8"/>
<line x1="307.40" y1="279.90" x2="307.40" y2="282.70" stroke="#444" stroke-width="0.8"/>
<line x1="324.10" y1="281.30" x2="326.90" y2="281.30" stroke="#444" stroke-width="0.8"/>
<line x1="342.10" y1="281.30" x2="344.90" y2="281.30" stroke="#444" stroke-width="0.8"/>
<line x1="343.50" y1="279.90" x2="343.50" y2="282.70" stroke="#444" stroke-width="0.8"/>
<text x="358.80" y="283.60" font-size="6.5" text-anchor="start" fill="#333">IFNa</text>
<line x1="279.50" y1="286.50" x2="315.00" y2="286.50" stroke="#2b2b2b" stroke-width="1.1"/>
<line x1="319.20" y1="286.50" x2="355.20" y2="286.50" stroke="#2b2b2b" stroke-width="1.1"/>
<text x="297.60" y="295.40" font-size="7.1" text-anchor="middle" fill="#222">HC</text>
<text x="337.60" y="295.40" font-size="7.1" text-anchor="middle" fill="#222">PV</text>
<path d="M289.30,207.50 L289.30,205.50 L307.50,205.50 L307.50,207.50" fill="none" stroke="#333" stroke-width="0.9"/>
<text x="298.40" y="206.10" font-size="6.5" text-anchor="middle" fill="#333">*</text>
<path d="M289.30,215.60 L289.30,213.60 L325.70,213.60 L325.70,215.60" fill="none" stroke="#333" stroke-width="0.9"/>
<text x="307.50" y="214.20" font-size="6.5" text-anchor="middle" fill="#333">**</text>
<path d="M324.50,223.20 L324.50,221.20 L343.20,221.20 L343.20,223.20" fill="none" stroke="#333" stroke-width="0.9"/>
<text x="333.85" y="222.30" font-size="6.5" text-anchor="middle" fill="#333">****</text>
<text x="316.80" y="315.30" font-size="8.7" text-anchor="middle" fill="#1a1a1a">reticulocytes</text>
<line x1="279.00" y1="318.80" x2="279.00" y2="390.40" stroke="#2b2b2b" stroke-width="1.2"/>
<line x1="278.40" y1="389.80" x2="354.00" y2="389.80" stroke="#2b2b2b" stroke-width="1.2"/>
<line x1="276.20" y1="321.40" x2="279.00" y2="321.40" stroke="#2b2b2b" stroke-width="0.9"/>
<text x="272.20" y="323.70" font-size="6.5" text-anchor="end" fill="#333">0.6</text>
<line x1="276.20" y1="342.00" x2="279.00" y2="342.00" stroke="#2b2b2b" stroke-width="0.9"/>
<text x="272.20" y="344.30" font-size="6.5" text-anchor="end" fill="#333">0.4</text>
<line x1="276.20" y1="362.30" x2="279.00" y2="362.30" stroke="#2b2b2b" stroke-width="0.9"/>
<text x="272.20" y="364.60" font-size="6.5" text-anchor="end" fill="#333">0.2</text>
<line x1="276.20" y1="382.60" x2="279.00" y2="382.60" stroke="#2b2b2b" stroke-width="0.9"/>
<text x="272.20" y="384.90" font-size="6.5" text-anchor="end" fill="#333">0.0</text>
<text transform="translate(254.10,353.40) rotate(-90) scale(0.6809,1)" x="0" y="0" font-size="8.7" text-anchor="middle" fill="#1a1a1a" stroke="#1a1a1a" stroke-width="0.220" text-rendering="geometricPrecision">Hallmark apoptosis score</text>
<path d="M289.30,348.10 L288.90,348.30 C288.87,349.42 288.78,352.72 288.70,355.00 C288.62,357.28 288.55,360.23 288.40,362.00 C288.25,363.77 288.12,364.60 287.80,365.60 C287.48,366.60 287.02,367.10 286.50,368.00 C285.98,368.90 285.18,370.08 284.70,371.00 C284.22,371.92 283.83,372.73 283.60,373.50 C283.37,374.27 283.28,374.85 283.30,375.60 C283.32,376.35 283.40,377.18 283.70,378.00 C284.00,378.82 284.58,379.75 285.10,380.50 C285.62,381.25 286.30,381.83 286.80,382.50 C287.30,383.17 287.75,383.87 288.10,384.50 C288.45,385.13 288.77,386.00 288.90,386.30 L289.30,386.50 L289.70,386.30 C289.83,386.00 290.15,385.13 290.50,384.50 C290.85,383.87 291.30,383.17 291.80,382.50 C292.30,381.83 292.98,381.25 293.50,380.50 C294.02,379.75 294.60,378.82 294.90,378.00 C295.20,377.18 295.28,376.35 295.30,375.60 C295.32,374.85 295.23,374.27 295.00,373.50 C294.77,372.73 294.38,371.92 293.90,371.00 C293.42,370.08 292.62,368.90 292.10,368.00 C291.58,367.10 291.12,366.60 290.80,365.60 C290.48,364.60 290.35,363.77 290.20,362.00 C290.05,360.23 289.98,357.28 289.90,355.00 C289.82,352.72 289.73,349.42 289.70,348.30 Z" fill="#F39313" stroke="#333" stroke-width="0.75" stroke-linejoin="round"/>
<line x1="286.60" y1="375.90" x2="292.00" y2="375.90" stroke="#6a300a" stroke-width="1.2"/>
<line x1="289.30" y1="389.80" x2="289.30" y2="392.60" stroke="#2b2b2b" stroke-width="0.9"/>
<path d="M307.40,356.20 L307.00,356.40 C306.95,357.17 306.83,359.58 306.70,361.00 C306.57,362.42 306.45,363.90 306.20,364.90 C305.95,365.90 305.67,366.23 305.20,367.00 C304.73,367.77 304.00,368.67 303.40,369.50 C302.80,370.33 302.07,371.10 301.60,372.00 C301.13,372.90 300.60,373.98 300.60,374.90 C300.60,375.82 301.13,376.65 301.60,377.50 C302.07,378.35 302.80,379.17 303.40,380.00 C304.00,380.83 304.73,381.75 305.20,382.50 C305.67,383.25 305.90,383.75 306.20,384.50 C306.50,385.25 306.87,386.58 307.00,387.00 L307.40,387.20 L307.80,387.00 C307.93,386.58 308.30,385.25 308.60,384.50 C308.90,383.75 309.13,383.25 309.60,382.50 C310.07,381.75 310.80,380.83 311.40,380.00 C312.00,379.17 312.73,378.35 313.20,377.50 C313.67,376.65 314.20,375.82 314.20,374.90 C314.20,373.98 313.67,372.90 313.20,372.00 C312.73,371.10 312.00,370.33 311.40,369.50 C310.80,368.67 310.07,367.77 309.60,367.00 C309.13,366.23 308.85,365.90 308.60,364.90 C308.35,363.90 308.23,362.42 308.10,361.00 C307.97,359.58 307.85,357.17 307.80,356.40 Z" fill="#2BA9E1" stroke="#333" stroke-width="0.75" stroke-linejoin="round"/>
<line x1="304.34" y1="374.90" x2="310.46" y2="374.90" stroke="#173f6e" stroke-width="1.2"/>
<line x1="307.40" y1="389.80" x2="307.40" y2="392.60" stroke="#2b2b2b" stroke-width="0.9"/>
<path d="M325.50,358.00 L325.10,358.20 C325.05,359.00 324.95,361.53 324.80,363.00 C324.65,364.47 324.58,365.92 324.20,367.00 C323.82,368.08 323.22,368.67 322.50,369.50 C321.78,370.33 320.73,370.98 319.90,372.00 C319.07,373.02 317.70,374.52 317.50,375.60 C317.30,376.68 318.10,377.60 318.70,378.50 C319.30,379.40 320.37,380.25 321.10,381.00 C321.83,381.75 322.57,382.42 323.10,383.00 C323.63,383.58 323.97,383.95 324.30,384.50 C324.63,385.05 324.97,386.00 325.10,386.30 L325.50,386.50 L325.90,386.30 C326.03,386.00 326.37,385.05 326.70,384.50 C327.03,383.95 327.37,383.58 327.90,383.00 C328.43,382.42 329.17,381.75 329.90,381.00 C330.63,380.25 331.70,379.40 332.30,378.50 C332.90,377.60 333.70,376.68 333.50,375.60 C333.30,374.52 331.93,373.02 331.10,372.00 C330.27,370.98 329.22,370.33 328.50,369.50 C327.78,368.67 327.18,368.08 326.80,367.00 C326.42,365.92 326.35,364.47 326.20,363.00 C326.05,361.53 325.95,359.00 325.90,358.20 Z" fill="#C90C2F" stroke="#333" stroke-width="0.75" stroke-linejoin="round"/>
<line x1="322.30" y1="375.30" x2="328.70" y2="375.30" stroke="#4a0815" stroke-width="1.2"/>
<line x1="325.50" y1="389.80" x2="325.50" y2="392.60" stroke="#2b2b2b" stroke-width="0.9"/>
<path d="M343.50,358.00 L343.10,358.20 C343.05,358.92 342.95,361.27 342.80,362.50 C342.65,363.73 342.55,364.68 342.20,365.60 C341.85,366.52 341.32,367.18 340.70,368.00 C340.08,368.82 339.28,369.47 338.50,370.50 C337.72,371.53 336.27,373.12 336.00,374.20 C335.73,375.28 336.42,376.12 336.90,377.00 C337.38,377.88 338.23,378.67 338.90,379.50 C339.57,380.33 340.35,381.25 340.90,382.00 C341.45,382.75 341.83,383.17 342.20,384.00 C342.57,384.83 342.95,386.50 343.10,387.00 L343.50,387.20 L343.90,387.00 C344.05,386.50 344.43,384.83 344.80,384.00 C345.17,383.17 345.55,382.75 346.10,382.00 C346.65,381.25 347.43,380.33 348.10,379.50 C348.77,378.67 349.62,377.88 350.10,377.00 C350.58,376.12 351.27,375.28 351.00,374.20 C350.73,373.12 349.28,371.53 348.50,370.50 C347.72,369.47 346.92,368.82 346.30,368.00 C345.68,367.18 345.15,366.52 344.80,365.60 C344.45,364.68 344.35,363.73 344.20,362.50 C344.05,361.27 343.95,358.92 343.90,358.20 Z" fill="#8E88C4" stroke="#333" stroke-width="0.75" stroke-linejoin="round"/>
<line x1="340.30" y1="374.20" x2="346.70" y2="374.20" stroke="#2f2a70" stroke-width="1.2"/>
<line x1="343.50" y1="389.80" x2="343.50" y2="392.60" stroke="#2b2b2b" stroke-width="0.9"/>
<line x1="287.90" y1="400.80" x2="290.70" y2="400.80" stroke="#444" stroke-width="0.8"/>
<line x1="306.00" y1="400.80" x2="308.80" y2="400.80" stroke="#444" stroke-width="0.8"/>
<line x1="307.40" y1="399.40" x2="307.40" y2="402.20" stroke="#444" stroke-width="0.8"/>
<line x1="324.10" y1="400.80" x2="326.90" y2="400.80" stroke="#444" stroke-width="0.8"/>
<line x1="342.10" y1="400.80" x2="344.90" y2="400.80" stroke="#444" stroke-width="0.8"/>
<line x1="343.50" y1="399.40" x2="343.50" y2="402.20" stroke="#444" stroke-width="0.8"/>
<text x="358.80" y="403.10" font-size="6.5" text-anchor="start" fill="#333">IFNa</text>
<line x1="279.50" y1="406.00" x2="315.00" y2="406.00" stroke="#2b2b2b" stroke-width="1.1"/>
<line x1="319.20" y1="406.00" x2="355.20" y2="406.00" stroke="#2b2b2b" stroke-width="1.1"/>
<text x="297.60" y="414.90" font-size="7.1" text-anchor="middle" fill="#222">HC</text>
<text x="337.60" y="414.90" font-size="7.1" text-anchor="middle" fill="#222">PV</text>
<path d="M289.40,329.80 L289.40,327.80 L308.00,327.80 L308.00,329.80" fill="none" stroke="#333" stroke-width="0.9"/>
<text x="298.70" y="325.80" font-size="6.3" text-anchor="middle" fill="#333">ns</text>
<path d="M289.40,338.80 L289.40,336.80 L326.40,336.80 L326.40,338.80" fill="none" stroke="#333" stroke-width="0.9"/>
<text x="307.90" y="334.80" font-size="6.3" text-anchor="middle" fill="#333">ns</text>
<path d="M325.80,348.00 L325.80,346.00 L344.30,346.00 L344.30,348.00" fill="none" stroke="#333" stroke-width="0.9"/>
<text x="335.05" y="343.60" font-size="6.3" text-anchor="middle" fill="#333">ns</text>
<text x="415.10" y="244.60" font-size="6.4" text-anchor="middle" fill="#333">hallmark apoptosis</text>
<text x="415.10" y="252.50" font-size="6.4" text-anchor="middle" fill="#333">treated vs. untreated</text>
<text x="405.20" y="263.80" font-size="7" text-anchor="middle" fill="#222">HC</text>
<text x="424.90" y="263.80" font-size="7" text-anchor="middle" fill="#222">PV</text>
<rect x="395.40" y="266.90" width="20.30" height="10.48" fill="#E2553C"/>
<rect x="415.20" y="266.90" width="19.70" height="10.48" fill="#D42417"/>
<text x="437.80" y="274.44" font-size="6.5" text-anchor="start" fill="#333">MEPs</text>
<rect x="395.40" y="276.78" width="20.30" height="10.48" fill="#EE785F"/>
<rect x="415.20" y="276.78" width="19.70" height="10.48" fill="#E8604A"/>
<text x="437.80" y="284.42" font-size="6.5" text-anchor="start" fill="#333">ProE</text>
<rect x="395.40" y="286.66" width="20.30" height="10.48" fill="#EE765E"/>
<rect x="415.20" y="286.66" width="19.70" height="10.48" fill="#E04B35"/>
<text x="437.80" y="294.40" font-size="6.5" text-anchor="start" fill="#333">BasoE</text>
<rect x="395.40" y="296.54" width="20.30" height="10.48" fill="#EB6A51"/>
<rect x="415.20" y="296.54" width="19.70" height="10.48" fill="#EE765F"/>
<text x="437.80" y="304.38" font-size="6.5" text-anchor="start" fill="#333">PolyE</text>
<rect x="395.40" y="306.42" width="20.30" height="10.48" fill="#EC6F58"/>
<rect x="415.20" y="306.42" width="19.70" height="10.48" fill="#EE765F"/>
<text x="437.80" y="314.36" font-size="6.5" text-anchor="start" fill="#333">OrthoE</text>
<rect x="395.40" y="316.30" width="20.30" height="9.88" fill="#F07F68"/>
<rect x="415.20" y="316.30" width="19.70" height="9.88" fill="#EE7862"/>
<text x="437.80" y="324.34" font-size="6.5" text-anchor="start" fill="#333">reticulocytes</text>
<text x="404.70" y="275.00" font-size="6.8" text-anchor="middle" fill="#4a0c06">*</text>
<text x="424.90" y="275.00" font-size="6.8" text-anchor="middle" fill="#4a0c06">***</text>
<text x="424.90" y="284.90" font-size="6.8" text-anchor="middle" fill="#4a0c06">*</text>
<text x="424.90" y="294.70" font-size="6.8" text-anchor="middle" fill="#4a0c06">**</text>
<text x="404.70" y="304.60" font-size="6.8" text-anchor="middle" fill="#4a0c06">*</text>
<text x="464.60" y="260.60" font-size="6.5" text-anchor="start" fill="#222">NES</text>
<defs><linearGradient id="nes" x1="0" y1="0" x2="0" y2="1"><stop offset="0" stop-color="#D60F12"/><stop offset="0.28" stop-color="#EF6248"/><stop offset="0.5" stop-color="#FFFFFF"/><stop offset="0.72" stop-color="#AE96D6"/><stop offset="1" stop-color="#3C3A9E"/></linearGradient></defs>
<rect x="464.40" y="263.80" width="7.60" height="37.00" fill="url(#nes)"/>
<text x="474.90" y="268.20" font-size="6.5" text-anchor="start" fill="#333">2</text>
<text x="474.90" y="276.70" font-size="6.5" text-anchor="start" fill="#333">1</text>
<text x="474.90" y="285.20" font-size="6.5" text-anchor="start" fill="#333">0</text>
<text x="474.60" y="293.70" font-size="6.5" text-anchor="start" fill="#333">−1</text>
<text x="474.60" y="301.30" font-size="6.5" text-anchor="start" fill="#333">−2</text>
<text x="9.70" y="441.70" font-size="12.3" text-anchor="start" fill="#111" font-weight="bold" stroke="#111" stroke-width="0.3">D</text>
<text x="76.70" y="441.20" font-size="7" text-anchor="middle" fill="#222">CD71+</text>
<text x="76.80" y="448.60" font-size="7" text-anchor="middle" fill="#222">CD235a−</text>
<text x="115.80" y="441.20" font-size="7" text-anchor="middle" fill="#222">CD71+</text>
<text x="115.80" y="448.60" font-size="7" text-anchor="middle" fill="#222">CD235a+</text>
<rect x="66.30" y="491.90" width="10.50" height="45.60" fill="#2EA0D9"/>
<rect x="83.90" y="475.80" width="9.80" height="61.70" fill="#C8102E"/>
<rect x="100.90" y="504.20" width="10.00" height="33.30" fill="#2EA0D9"/>
<rect x="118.20" y="498.20" width="9.70" height="39.30" fill="#C8102E"/>
<line x1="96.90" y1="432.00" x2="96.90" y2="557.50" stroke="#333" stroke-width="1.1" stroke-dasharray="3,2"/>
<line x1="59.00" y1="452.30" x2="59.00" y2="538.20" stroke="#2b2b2b" stroke-width="1.2"/>
<line x1="58.40" y1="537.60" x2="136.20" y2="537.60" stroke="#2b2b2b" stroke-width="1.2"/>
<line x1="56.40" y1="537.70" x2="59.00" y2="537.70" stroke="#2b2b2b" stroke-width="0.9"/>
<text x="53.60" y="540.10" font-size="6.7" text-anchor="end" fill="#333">0.0</text>
<line x1="56.40" y1="521.02" x2="59.00" y2="521.02" stroke="#2b2b2b" stroke-width="0.9"/>
<text x="53.60" y="523.42" font-size="6.7" text-anchor="end" fill="#333">0.5</text>
<line x1="56.40" y1="504.34" x2="59.00" y2="504.34" stroke="#2b2b2b" stroke-width="0.9"/>
<text x="53.60" y="506.74" font-size="6.7" text-anchor="end" fill="#333">1.0</text>
<line x1="56.40" y1="487.66" x2="59.00" y2="487.66" stroke="#2b2b2b" stroke-width="0.9"/>
<text x="53.60" y="490.06" font-size="6.7" text-anchor="end" fill="#333">1.5</text>
<line x1="56.40" y1="470.98" x2="59.00" y2="470.98" stroke="#2b2b2b" stroke-width="0.9"/>
<text x="53.60" y="473.38" font-size="6.7" text-anchor="end" fill="#333">2.0</text>
<line x1="56.40" y1="454.30" x2="59.00" y2="454.30" stroke="#2b2b2b" stroke-width="0.9"/>
<text x="53.60" y="456.70" font-size="6.7" text-anchor="end" fill="#333">2.5</text>
<line x1="59.00" y1="504.50" x2="136.20" y2="504.50" stroke="#222" stroke-width="0.9" stroke-dasharray="3,2.2"/>
<line x1="71.40" y1="478.60" x2="71.40" y2="503.80" stroke="#222" stroke-width="0.9"/>
<line x1="69.00" y1="478.60" x2="73.80" y2="478.60" stroke="#222" stroke-width="0.9"/>
<line x1="69.00" y1="503.80" x2="73.80" y2="503.80" stroke="#222" stroke-width="0.9"/>
<line x1="88.60" y1="465.80" x2="88.60" y2="485.20" stroke="#222" stroke-width="0.9"/>
<line x1="86.20" y1="465.80" x2="91.00" y2="465.80" stroke="#222" stroke-width="0.9"/>
<line x1="86.20" y1="485.20" x2="91.00" y2="485.20" stroke="#222" stroke-width="0.9"/>
<line x1="105.70" y1="490.10" x2="105.70" y2="516.40" stroke="#222" stroke-width="0.9"/>
<line x1="103.30" y1="490.10" x2="108.10" y2="490.10" stroke="#222" stroke-width="0.9"/>
<line x1="103.30" y1="516.40" x2="108.10" y2="516.40" stroke="#222" stroke-width="0.9"/>
<line x1="122.80" y1="493.50" x2="122.80" y2="504.10" stroke="#222" stroke-width="0.9"/>
<line x1="120.40" y1="493.50" x2="125.20" y2="493.50" stroke="#222" stroke-width="0.9"/>
<line x1="120.40" y1="504.10" x2="125.20" y2="504.10" stroke="#222" stroke-width="0.9"/>
<circle cx="71.4" cy="476.9" r="1.55" fill="#111"/>
<circle cx="67.3" cy="499.8" r="1.55" fill="#111"/>
<circle cx="75.4" cy="496.5" r="1.55" fill="#111"/>
<circle cx="88.6" cy="467.8" r="1.55" fill="#111"/>
<circle cx="89.0" cy="472.2" r="1.55" fill="#111"/>
<circle cx="88.6" cy="485.6" r="1.55" fill="#111"/>
<circle cx="105.7" cy="488.1" r="1.55" fill="#111"/>
<circle cx="101.6" cy="511.0" r="1.55" fill="#111"/>
<circle cx="109.4" cy="511.0" r="1.55" fill="#111"/>
<circle cx="118.4" cy="494.2" r="1.55" fill="#111"/>
<circle cx="127.3" cy="496.7" r="1.55" fill="#111"/>
<circle cx="123.0" cy="502.9" r="1.55" fill="#111"/>
<text x="71.20" y="470.40" font-size="6.3" text-anchor="middle" fill="#333">ns</text>
<line x1="66.90" y1="472.10" x2="75.90" y2="472.10" stroke="#333" stroke-width="0.8"/>
<text x="88.30" y="461.00" font-size="6.3" text-anchor="middle" fill="#333">*</text>
<line x1="85.10" y1="460.70" x2="91.60" y2="460.70" stroke="#333" stroke-width="0.8"/>
<text x="105.70" y="481.90" font-size="6.3" text-anchor="middle" fill="#333">ns</text>
<line x1="101.10" y1="483.40" x2="110.30" y2="483.40" stroke="#333" stroke-width="0.8"/>
<text x="122.80" y="487.00" font-size="6.3" text-anchor="middle" fill="#333">ns</text>
<line x1="118.40" y1="489.10" x2="127.30" y2="489.10" stroke="#333" stroke-width="0.8"/>
<line x1="71.60" y1="537.60" x2="71.60" y2="540.30" stroke="#2b2b2b" stroke-width="0.9"/>
<text x="71.60" y="549.70" font-size="7" text-anchor="middle" fill="#222">HD</text>
<line x1="88.60" y1="537.60" x2="88.60" y2="540.30" stroke="#2b2b2b" stroke-width="0.9"/>
<text x="88.60" y="549.70" font-size="7" text-anchor="middle" fill="#222">PV</text>
<line x1="105.80" y1="537.60" x2="105.80" y2="540.30" stroke="#2b2b2b" stroke-width="0.9"/>
<text x="105.80" y="549.70" font-size="7" text-anchor="middle" fill="#222">HD</text>
<line x1="122.80" y1="537.60" x2="122.80" y2="540.30" stroke="#2b2b2b" stroke-width="0.9"/>
<text x="122.80" y="549.70" font-size="7" text-anchor="middle" fill="#222">PV</text>
<text transform="translate(26.90,496.10) rotate(-90) scale(0.6992,1)" x="0" y="0" font-size="8.7" text-anchor="middle" fill="#1a1a1a" stroke="#1a1a1a" stroke-width="0.215" text-rendering="geometricPrecision">Fold increase of apoptosis</text>
<text transform="translate(38.00,496.30) rotate(-90) scale(0.7351,1)" x="0" y="0" font-size="8.7" text-anchor="middle" fill="#1a1a1a" stroke="#1a1a1a" stroke-width="0.204" text-rendering="geometricPrecision">[mean ± SD]</text>
<text x="183.80" y="442.10" font-size="12.3" text-anchor="start" fill="#111" font-weight="bold" stroke="#111" stroke-width="0.3">E</text>
<line x1="322.40" y1="457.50" x2="325.20" y2="457.50" stroke="#2b2b2b" stroke-width="0.9"/>
<text x="318.90" y="459.70" font-size="6.5" text-anchor="end" fill="#333">MHC protein complex</text>
<line x1="322.40" y1="476.78" x2="325.20" y2="476.78" stroke="#2b2b2b" stroke-width="0.9"/>
<text x="318.90" y="475.18" font-size="6.5" text-anchor="end" fill="#333">antigen processing and presentation of</text>
<text x="318.90" y="483.18" font-size="6.5" text-anchor="end" fill="#333">endogenous peptide antigen</text>
<line x1="322.40" y1="496.06" x2="325.20" y2="496.06" stroke="#2b2b2b" stroke-width="0.9"/>
<text x="318.90" y="494.46" font-size="6.5" text-anchor="end" fill="#333">antigen processing and presentation of</text>
<text x="318.90" y="502.46" font-size="6.5" text-anchor="end" fill="#333">endogenous peptide antigen via MHC class I</text>
<line x1="322.40" y1="515.34" x2="325.20" y2="515.34" stroke="#2b2b2b" stroke-width="0.9"/>
<text x="318.90" y="513.74" font-size="6.5" text-anchor="end" fill="#333">antigen processing and presentation of</text>
<text x="318.90" y="521.74" font-size="6.5" text-anchor="end" fill="#333">endogenous antigen</text>
<line x1="322.40" y1="534.62" x2="325.20" y2="534.62" stroke="#2b2b2b" stroke-width="0.9"/>
<text x="318.90" y="533.02" font-size="6.5" text-anchor="end" fill="#333">antigen processing and presentation of peptide</text>
<text x="318.90" y="541.02" font-size="6.5" text-anchor="end" fill="#333">antigen via MHC class I</text>
<line x1="322.40" y1="553.90" x2="325.20" y2="553.90" stroke="#2b2b2b" stroke-width="0.9"/>
<text x="318.90" y="556.10" font-size="6.5" text-anchor="end" fill="#333">cytoplasmic translation</text>
<line x1="322.40" y1="573.18" x2="325.20" y2="573.18" stroke="#2b2b2b" stroke-width="0.9"/>
<text x="318.90" y="575.38" font-size="6.5" text-anchor="end" fill="#333">structural constituent of ribosome</text>
<line x1="322.40" y1="592.46" x2="325.20" y2="592.46" stroke="#2b2b2b" stroke-width="0.9"/>
<text x="318.90" y="594.66" font-size="6.5" text-anchor="end" fill="#333">cytosolic ribosome</text>
<line x1="322.40" y1="611.74" x2="325.20" y2="611.74" stroke="#2b2b2b" stroke-width="0.9"/>
<text x="318.90" y="613.94" font-size="6.5" text-anchor="end" fill="#333">ribosome</text>
<line x1="322.40" y1="631.02" x2="325.20" y2="631.02" stroke="#2b2b2b" stroke-width="0.9"/>
<text x="318.90" y="633.22" font-size="6.5" text-anchor="end" fill="#333">ribosomal subunit</text>
<line x1="325.20" y1="446.20" x2="325.20" y2="642.40" stroke="#2b2b2b" stroke-width="1.2"/>
<line x1="324.60" y1="641.90" x2="419.30" y2="641.90" stroke="#2b2b2b" stroke-width="1.2"/>
<line x1="392.30" y1="445.80" x2="392.30" y2="641.90" stroke="#222" stroke-width="1.0"/>
<line x1="358.50" y1="641.90" x2="358.50" y2="644.60" stroke="#2b2b2b" stroke-width="0.9"/>
<text x="358.50" y="654.60" font-size="6.5" text-anchor="middle" fill="#333">−10</text>
<line x1="392.30" y1="641.90" x2="392.30" y2="644.60" stroke="#2b2b2b" stroke-width="0.9"/>
<text x="392.30" y="654.60" font-size="6.5" text-anchor="middle" fill="#333">0</text>
<text transform="translate(372.30,667.60) scale(0.7492,1)" x="0" y="0" font-size="8.2" text-anchor="middle" fill="#1a1a1a" stroke="#1a1a1a" stroke-width="0.200" text-rendering="geometricPrecision">-log10(P) x sign(logFC)</text>
<polygon points="412.80,458.71 415.60,458.71 414.20,456.29" fill="#A8202A"/>
<polygon points="412.80,477.99 415.60,477.99 414.20,475.57" fill="#A8202A"/>
<polygon points="412.80,497.27 415.60,497.27 414.20,494.85" fill="#A8202A"/>
<polygon points="410.20,516.55 413.00,516.55 411.60,514.13" fill="#A8202A"/>
<polygon points="409.80,535.83 412.60,535.83 411.20,533.41" fill="#A8202A"/>
<polygon points="341.20,550.61 348.80,550.61 345.00,557.19" fill="#1F4B7B"/>
<polygon points="331.60,569.89 339.20,569.89 335.40,576.47" fill="#1F4B7B"/>
<polygon points="331.00,589.17 338.60,589.17 334.80,595.75" fill="#1F4B7B"/>
<polygon points="325.30,608.45 332.90,608.45 329.10,615.03" fill="#1F4B7B"/>
<polygon points="325.30,627.73 332.90,627.73 329.10,634.31" fill="#1F4B7B"/>
<text x="426.90" y="540.80" font-size="7.5" text-anchor="start" fill="#222">count</text>
<polygon points="428.90,549.30 431.90,549.30 430.40,546.70" fill="#222"/>
<text x="434.80" y="550.40" font-size="6.5" text-anchor="start" fill="#333">5</text>
<polygon points="428.45,557.49 432.35,557.49 430.40,554.11" fill="none" stroke="#222" stroke-width="0.9" stroke-linejoin="miter"/>
<text x="434.80" y="558.20" font-size="6.5" text-anchor="start" fill="#333">10</text>
<polygon points="428.00,566.58 432.80,566.58 430.40,562.42" fill="none" stroke="#222" stroke-width="0.9" stroke-linejoin="miter"/>
<text x="434.80" y="566.90" font-size="6.5" text-anchor="start" fill="#333">15</text>
<polygon points="427.50,575.61 433.30,575.61 430.40,570.59" fill="none" stroke="#222" stroke-width="0.9" stroke-linejoin="miter"/>
<text x="434.80" y="575.50" font-size="6.5" text-anchor="start" fill="#333">20</text>
<text x="426.90" y="589.40" font-size="7.5" text-anchor="start" fill="#222">logFC</text>
<polygon points="428.10,594.98 432.30,594.98 430.20,598.62" fill="#1F4B7B"/>
<text x="434.80" y="599.20" font-size="6.5" text-anchor="start" fill="#333">down</text>
<polygon points="428.10,606.92 432.30,606.92 430.20,603.28" fill="#B5262B"/>
<text x="434.80" y="607.50" font-size="6.5" text-anchor="start" fill="#333">up</text>
<rect x="0.5" y="0.5" width="519" height="676" fill="none" stroke="#1b1b1b" stroke-width="1"/>
</svg>
</body></html>
